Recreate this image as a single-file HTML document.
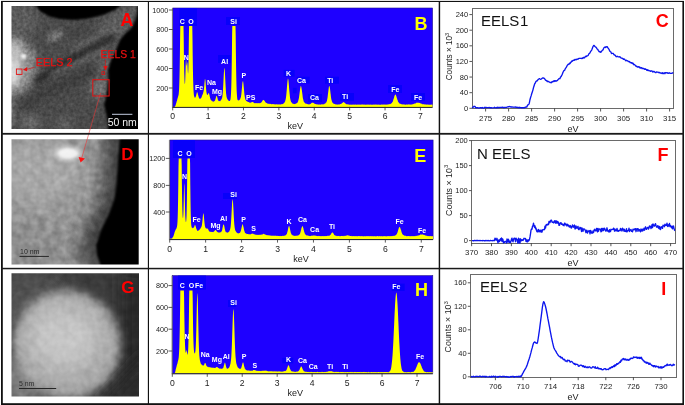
<!DOCTYPE html>
<html><head><meta charset="utf-8"><style>html,body{margin:0;padding:0;background:#fff;overflow:hidden}svg{display:block;will-change:transform}</style></head>
<body>
<svg xmlns="http://www.w3.org/2000/svg" width="685" height="405" viewBox="0 0 685 405">
<rect width="685" height="405" fill="#fff"/>
<defs>
<filter id="b2" filterUnits="userSpaceOnUse" x="-20" y="-20" width="200" height="450"><feGaussianBlur stdDeviation="2"/></filter>
<filter id="b4" filterUnits="userSpaceOnUse" x="-20" y="-20" width="200" height="450"><feGaussianBlur stdDeviation="4"/></filter>
<filter id="b8" filterUnits="userSpaceOnUse" x="-20" y="-20" width="200" height="450"><feGaussianBlur stdDeviation="8"/></filter>
<filter id="b12" filterUnits="userSpaceOnUse" x="-20" y="-20" width="200" height="450"><feGaussianBlur stdDeviation="12"/></filter>
<filter id="b1" filterUnits="userSpaceOnUse" x="-20" y="-20" width="200" height="450"><feGaussianBlur stdDeviation="1"/></filter>
<filter id="gn" color-interpolation-filters="sRGB" x="0" y="0" width="100%" height="100%"><feTurbulence type="fractalNoise" baseFrequency="0.3" numOctaves="2" seed="4"/><feColorMatrix type="matrix" values="0 0 0 1 0  0 0 0 1 0  0 0 0 1 0  0 0 0 0 1"/></filter>
<clipPath id="cA"><rect x="11.5" y="6" width="126.5" height="123"/></clipPath>
<clipPath id="cD"><rect x="11.5" y="139.3" width="127.2" height="125.3"/></clipPath>
<clipPath id="cG"><rect x="11.5" y="273.2" width="127.5" height="123.2"/></clipPath>
</defs>
<!-- Image A -->
<g clip-path="url(#cA)">
<rect x="0" y="0" width="150" height="135" fill="#4a4a4a"/>
<ellipse cx="22" cy="20" rx="16" ry="16" fill="#5c5c5c" filter="url(#b4)"/>
<path d="M70,45 L100,22 L128,6 L138,4 L138,14 L124,32 L108,45 L80,58 Z" fill="#5e5e5e" filter="url(#b4)"/>
<path d="M70,34 L100,22 L96,32 L72,42 Z" fill="#3e3e3e" filter="url(#b4)"/>
<ellipse cx="55" cy="36" rx="9" ry="4" transform="rotate(-28 55 36)" fill="#7c7c7c" filter="url(#b2)"/>
<path d="M0,36 L22,38 L34,50 L38,72 L26,92 L0,100 Z" fill="#8a8a8a" filter="url(#b4)"/>
<ellipse cx="14" cy="64" rx="8" ry="24" fill="#c6c6c6" filter="url(#b4)"/>
<ellipse cx="13" cy="72" rx="5" ry="12" fill="#d8d8d8" filter="url(#b2)"/>
<ellipse cx="30" cy="57" rx="4" ry="4" fill="#8c8c8c" filter="url(#b2)"/>
<ellipse cx="23.4" cy="56.5" rx="2.9" ry="2.4" fill="#f0f0f0" filter="url(#b1)"/>
<polyline points="26,104 50,90 75,80 95,70" fill="none" stroke="#3a3a3a" stroke-width="10" stroke-linecap="round" filter="url(#b4)"/>
<polyline points="38,80 60,66 85,52 111,38" fill="none" stroke="#2e2e2e" stroke-width="8" stroke-linecap="round" filter="url(#b2)"/>
<polyline points="52,74 75,64 104,50" fill="none" stroke="#626262" stroke-width="4" stroke-linecap="round" filter="url(#b2)"/>
<ellipse cx="99" cy="88" rx="9" ry="10" fill="#747474" filter="url(#b4)"/>
<path d="M96,60 L112,48 L110,78 L100,74 Z" fill="#626262" filter="url(#b4)"/>
<ellipse cx="30" cy="122" rx="10" ry="7" fill="#6c6c6c" filter="url(#b4)"/>
<ellipse cx="64" cy="124" rx="8" ry="6" fill="#626262" filter="url(#b4)"/>
<ellipse cx="12" cy="112" rx="3" ry="16" fill="#6a6a6a" filter="url(#b2)"/>
<path d="M36,0 L36.4,6 L40,11.2 L50,16.7 L60,19 L75,20 L90,18.2 L105,14.3 L115,9.7 L120,6 L122,0 Z" fill="#000" filter="url(#b1)"/>
<path d="M145,4 L138,6 L136,18 L132,27.5 L124.3,34.5 L120,40 L116,50 L111,60 L108,70 L108.5,80 L106.4,95 L104.1,105 L106.4,115 L108,125 L108,135 L145,135 Z" fill="#040404" filter="url(#b1)"/>
<rect x="11.5" y="6" width="126.5" height="123" filter="url(#gn)" style="mix-blend-mode:overlay" opacity="0.3"/>
</g>
<!-- Image D -->
<filter id="gn2" color-interpolation-filters="sRGB" x="0" y="0" width="100%" height="100%"><feTurbulence type="fractalNoise" baseFrequency="0.13" numOctaves="2" seed="9"/><feColorMatrix type="matrix" values="0 0 0 1 0  0 0 0 1 0  0 0 0 1 0  0 0 0 0 1"/></filter>
<g clip-path="url(#cD)">
<rect x="0" y="135" width="150" height="135" fill="#949494"/>
<ellipse cx="42" cy="172" rx="42" ry="34" fill="#a8a8a8" filter="url(#b12)"/>
<ellipse cx="32" cy="250" rx="32" ry="20" fill="#8a8a8a" filter="url(#b12)"/>
<polyline points="116,130 114,160 112,185 109,200 103,215 95,230 89,245 90,255 93,270" fill="none" stroke="#4e4e4e" stroke-width="22" filter="url(#b8)"/>
<polyline points="119,130 117,160 115.5,185 113,200 107,215 100,230 94,245 95,255 98,270" fill="none" stroke="#3a3a3a" stroke-width="8" filter="url(#b4)"/>
<ellipse cx="67.5" cy="153.5" rx="13" ry="7" fill="#dedede" filter="url(#b2)"/>
<ellipse cx="68" cy="153.5" rx="9.5" ry="4.5" fill="#f2f2f2" filter="url(#b1)"/>
<path d="M120,135 L119.5,139 L118,160 L116.5,185 L114,200 L108.3,215 L101,230 L96,245 L96.9,255 L100,264 L101,270 L145,270 L145,135 Z" fill="#050505" filter="url(#b1)"/>
<rect x="11.5" y="139.3" width="127.2" height="125.3" filter="url(#gn2)" style="mix-blend-mode:overlay" opacity="0.28"/>
</g>
<!-- Image G -->
<g clip-path="url(#cG)">
<rect x="0" y="268" width="150" height="135" fill="#3a3a3a"/>
<ellipse cx="28" cy="298" rx="40" ry="32" fill="#505050" filter="url(#b12)"/>
<rect x="122" y="268" width="30" height="135" fill="#272727" filter="url(#b8)"/>
<rect x="0" y="360" width="40" height="45" fill="#7a7a7a" filter="url(#b8)"/>
<ellipse cx="67" cy="345" rx="53" ry="54" transform="rotate(-25 67 345)" fill="#a4a4a4" filter="url(#b4)"/>
<ellipse cx="64" cy="338" rx="38" ry="34" fill="#c6c6c6" filter="url(#b12)"/>
<path d="M94,410 L150,350 L150,410 Z" fill="#2c2c2c" filter="url(#b8)"/>
<rect x="11.5" y="273.2" width="127.5" height="123.2" filter="url(#gn2)" style="mix-blend-mode:overlay" opacity="0.2"/>
</g>

<g font-family="Liberation Sans, sans-serif">
<text x="120.5" y="25.6" font-size="17.8" font-weight="bold" fill="#ff0000">A</text>
<text x="100.6" y="57.6" font-size="10.4" fill="#e81010" stroke="#e81010" stroke-width="0.25">EELS 1</text>
<text x="35.8" y="66" font-size="10.8" fill="#e81010" stroke="#e81010" stroke-width="0.25">EELS 2</text>
<line x1="105.4" y1="60" x2="105.4" y2="66.5" stroke="#e31212" stroke-width="0.6"/>
<path d="M103.3,66 L107.7,66 L105.5,70.6 Z" fill="#e31212"/>
<rect x="101.9" y="71.8" width="2.8" height="2.6" fill="none" stroke="#e31212" stroke-width="0.8"/>
<line x1="34.5" y1="67.3" x2="26.5" y2="69.4" stroke="#e31212" stroke-width="0.6"/>
<path d="M23,69.7 L27.2,67.1 L27.2,71.5 Z" fill="#e31212"/>
<rect x="16.4" y="69" width="5.6" height="5.4" fill="none" stroke="#e31212" stroke-width="0.9"/>
<rect x="92.8" y="79.7" width="16.3" height="16.3" fill="none" stroke="#e31212" stroke-width="1"/>
<line x1="112" y1="114.3" x2="132.4" y2="114.3" stroke="#c4cce0" stroke-width="1"/>
<text x="107.7" y="126.3" font-size="10.5" fill="#f2f2f2">50 nm</text>
<line x1="100.6" y1="93" x2="81.6" y2="158.5" stroke="#f03030" stroke-width="0.55"/>
<path d="M78.6,157 L85,158.4 L80.6,162.6 Z" fill="#ff1010"/>
<text x="121.2" y="159.6" font-size="17" font-weight="bold" fill="#ff0000">D</text>
<line x1="19.5" y1="256.4" x2="48.9" y2="256.4" stroke="#262626" stroke-width="1"/>
<text x="20" y="254.2" font-size="7" fill="#2a2a2a">10 nm</text>
<text x="121.2" y="293.4" font-size="17" font-weight="bold" fill="#ff0000">G</text>
<line x1="19" y1="388.5" x2="56.2" y2="388.5" stroke="#262626" stroke-width="1"/>
<text x="19" y="385.8" font-size="6.9" fill="#2e2e2e">5 nm</text>
</g>

<rect x="172.8" y="8" width="259.8" height="98.9" fill="#1e00ff" stroke="#24148a" stroke-width="0.6"/>
<rect x="179.4" y="8" width="17.6" height="18" fill="#0800fa"/>
<rect x="226" y="17" width="14" height="8" fill="#0800fa"/>
<rect x="218" y="55" width="13" height="8" fill="#0800fa"/>
<rect x="283.6" y="69.9" width="11" height="6.8" fill="#0800fa"/>
<rect x="296.6" y="76.7" width="13" height="6.8" fill="#0800fa"/>
<rect x="292.9" y="87.8" width="3.7" height="5.5" fill="#0800fa"/>
<rect x="308" y="94" width="14" height="8" fill="#0800fa"/>
<rect x="325" y="76.7" width="14" height="7" fill="#0800fa"/>
<rect x="340" y="93" width="14" height="8" fill="#0800fa"/>
<rect x="388" y="85" width="14" height="8" fill="#0800fa"/>
<rect x="411" y="93" width="14" height="8" fill="#0800fa"/>
<path d="M173.3,106.9 L173.3,106.90 L173.5,106.90 L173.7,106.90 L173.9,106.90 L174.1,106.90 L174.3,106.90 L174.5,106.90 L174.7,106.70 L174.9,106.49 L175.1,106.27 L175.3,105.72 L175.5,105.71 L175.7,104.78 L175.9,104.17 L176.1,103.62 L176.3,102.70 L176.5,102.23 L176.7,101.37 L176.9,100.88 L177.1,100.20 L177.3,99.35 L177.5,98.46 L177.7,98.10 L177.9,97.30 L178.1,96.48 L178.3,95.78 L178.5,95.14 L178.7,93.95 L178.9,91.64 L179.1,88.99 L179.3,83.87 L179.5,77.26 L179.7,67.64 L179.9,54.54 L180.1,37.59 L180.3,26.00 L180.5,26.00 L180.7,26.00 L180.9,26.00 L181.1,26.00 L181.3,26.00 L181.5,26.00 L181.7,26.00 L181.9,26.00 L182.1,26.00 L182.3,26.00 L182.5,26.00 L182.7,26.00 L182.9,26.00 L183.1,26.00 L183.3,26.00 L183.5,26.00 L183.7,37.00 L183.9,53.24 L184.1,65.68 L184.3,74.36 L184.5,80.23 L184.7,83.60 L184.9,83.91 L185.1,82.41 L185.3,77.79 L185.5,71.28 L185.7,65.06 L185.9,60.40 L186.1,59.65 L186.3,61.49 L186.5,64.50 L186.7,65.99 L186.9,64.68 L187.1,62.71 L187.3,61.83 L187.5,64.22 L187.7,68.65 L187.9,72.62 L188.1,73.49 L188.3,70.44 L188.5,63.36 L188.7,51.67 L188.9,36.07 L189.1,26.00 L189.3,26.00 L189.5,26.00 L189.7,26.00 L189.9,26.00 L190.1,26.00 L190.3,26.00 L190.5,26.00 L190.7,26.00 L190.9,26.00 L191.1,26.00 L191.3,26.00 L191.5,26.00 L191.7,26.00 L191.9,26.00 L192.1,26.00 L192.3,26.00 L192.5,39.04 L192.7,55.78 L192.9,68.78 L193.1,78.25 L193.3,85.10 L193.5,89.72 L193.7,93.05 L193.9,94.92 L194.1,96.13 L194.3,96.59 L194.5,96.98 L194.7,97.64 L194.9,97.76 L195.1,97.71 L195.3,97.54 L195.5,97.14 L195.7,96.69 L195.9,96.32 L196.1,95.77 L196.3,94.78 L196.5,93.99 L196.7,93.14 L196.9,92.37 L197.1,92.20 L197.3,92.33 L197.5,92.64 L197.7,93.26 L197.9,94.39 L198.1,94.85 L198.3,95.76 L198.5,96.45 L198.7,97.10 L198.9,97.76 L199.1,98.10 L199.3,98.50 L199.5,98.41 L199.7,98.83 L199.9,98.93 L200.1,98.85 L200.3,98.75 L200.5,98.51 L200.7,98.47 L200.9,98.28 L201.1,97.93 L201.3,97.64 L201.5,97.13 L201.7,96.88 L201.9,95.98 L202.1,95.60 L202.3,95.32 L202.5,94.75 L202.7,94.20 L202.9,93.70 L203.1,93.31 L203.3,92.36 L203.5,91.53 L203.7,90.72 L203.9,89.22 L204.1,87.54 L204.3,85.34 L204.5,82.87 L204.7,80.79 L204.9,79.05 L205.1,78.95 L205.3,79.74 L205.5,81.04 L205.7,83.69 L205.9,86.55 L206.1,88.87 L206.3,91.24 L206.5,92.57 L206.7,93.43 L206.9,94.16 L207.1,94.63 L207.3,95.01 L207.5,94.90 L207.7,94.78 L207.9,94.13 L208.1,93.84 L208.3,93.33 L208.5,93.31 L208.7,93.32 L208.9,93.25 L209.1,93.65 L209.3,94.42 L209.5,95.28 L209.7,96.16 L209.9,97.05 L210.1,98.06 L210.3,98.55 L210.5,99.15 L210.7,99.72 L210.9,100.05 L211.1,100.20 L211.3,100.44 L211.5,100.43 L211.7,100.49 L211.9,100.92 L212.1,100.84 L212.3,100.97 L212.5,101.14 L212.7,101.57 L212.9,101.76 L213.1,101.81 L213.3,101.80 L213.5,101.75 L213.7,101.49 L213.9,101.29 L214.1,101.24 L214.3,101.31 L214.5,101.07 L214.7,100.78 L214.9,100.84 L215.1,100.15 L215.3,99.48 L215.5,98.88 L215.7,98.13 L215.9,97.47 L216.1,96.88 L216.3,96.00 L216.5,95.92 L216.7,95.68 L216.9,95.91 L217.1,96.76 L217.3,97.49 L217.5,98.01 L217.7,98.88 L217.9,99.81 L218.1,100.36 L218.3,100.74 L218.5,100.64 L218.7,100.87 L218.9,101.31 L219.1,101.04 L219.3,100.99 L219.5,101.14 L219.7,101.26 L219.9,101.10 L220.1,101.21 L220.3,101.14 L220.5,100.49 L220.7,100.45 L220.9,100.28 L221.1,99.80 L221.3,99.73 L221.5,99.14 L221.7,98.71 L221.9,98.46 L222.1,97.71 L222.3,96.70 L222.5,95.37 L222.7,93.36 L222.9,91.10 L223.1,87.96 L223.3,84.46 L223.5,80.05 L223.7,76.26 L223.9,72.54 L224.1,69.68 L224.3,68.00 L224.5,68.23 L224.7,69.47 L224.9,72.45 L225.1,76.09 L225.3,80.13 L225.5,84.39 L225.7,87.79 L225.9,90.96 L226.1,93.45 L226.3,94.87 L226.5,96.51 L226.7,97.33 L226.9,97.92 L227.1,98.54 L227.3,99.10 L227.5,99.36 L227.7,99.65 L227.9,99.81 L228.1,100.39 L228.3,100.37 L228.5,100.70 L228.7,100.84 L228.9,100.72 L229.1,100.95 L229.3,100.99 L229.5,100.91 L229.7,100.81 L229.9,100.92 L230.1,100.56 L230.3,100.10 L230.5,99.19 L230.7,97.58 L230.9,95.27 L231.1,91.50 L231.3,86.02 L231.5,77.95 L231.7,67.37 L231.9,53.24 L232.1,35.53 L232.3,26.00 L232.5,26.00 L232.7,26.00 L232.9,26.00 L233.1,26.00 L233.3,26.00 L233.5,26.00 L233.7,26.00 L233.9,26.00 L234.1,26.00 L234.3,26.00 L234.5,26.00 L234.7,26.00 L234.9,26.00 L235.1,26.00 L235.3,26.00 L235.5,26.00 L235.7,35.36 L235.9,52.96 L236.1,67.35 L236.3,77.66 L236.5,85.74 L236.7,91.17 L236.9,94.61 L237.1,97.08 L237.3,98.89 L237.5,99.63 L237.7,100.06 L237.9,100.37 L238.1,100.54 L238.3,100.51 L238.5,100.29 L238.7,100.58 L238.9,100.23 L239.1,100.18 L239.3,100.26 L239.5,99.95 L239.7,99.62 L239.9,99.46 L240.1,99.41 L240.3,98.59 L240.5,98.21 L240.7,97.48 L240.9,97.05 L241.1,95.84 L241.3,94.51 L241.5,92.39 L241.7,90.62 L241.9,88.49 L242.1,86.13 L242.3,83.85 L242.5,82.25 L242.7,81.46 L242.9,81.17 L243.1,81.20 L243.3,82.51 L243.5,84.16 L243.7,86.57 L243.9,88.87 L244.1,90.82 L244.3,93.04 L244.5,95.04 L244.7,96.11 L244.9,97.46 L245.1,98.30 L245.3,99.37 L245.5,99.52 L245.7,100.33 L245.9,100.26 L246.1,100.73 L246.3,101.01 L246.5,101.08 L246.7,101.04 L246.9,101.48 L247.1,101.62 L247.3,101.46 L247.5,101.64 L247.7,101.75 L247.9,101.78 L248.1,101.91 L248.3,101.94 L248.5,102.00 L248.7,102.13 L248.9,102.03 L249.1,102.38 L249.3,102.38 L249.5,102.62 L249.7,102.59 L249.9,102.80 L250.1,102.71 L250.3,102.84 L250.5,102.48 L250.7,102.55 L250.9,102.69 L251.1,102.49 L251.3,102.18 L251.5,102.49 L251.7,102.03 L251.9,102.12 L252.1,102.02 L252.3,101.82 L252.5,102.06 L252.7,102.06 L252.9,102.08 L253.1,102.06 L253.3,102.52 L253.5,102.41 L253.7,102.59 L253.9,102.72 L254.1,102.92 L254.3,103.01 L254.5,103.20 L254.7,103.20 L254.9,103.26 L255.1,102.95 L255.3,103.21 L255.5,103.28 L255.7,103.33 L255.9,102.97 L256.1,102.97 L256.3,103.08 L256.5,103.29 L256.7,103.32 L256.9,103.30 L257.1,103.22 L257.3,103.37 L257.5,103.23 L257.7,103.32 L257.9,102.97 L258.1,102.96 L258.3,103.17 L258.5,103.32 L258.7,102.95 L258.9,103.26 L259.1,103.23 L259.3,103.39 L259.5,103.18 L259.7,103.10 L259.9,103.05 L260.1,103.15 L260.3,102.94 L260.5,103.10 L260.7,102.87 L260.9,102.83 L261.1,102.52 L261.3,102.52 L261.5,102.31 L261.7,101.93 L261.9,101.71 L262.1,101.25 L262.3,101.00 L262.5,100.61 L262.7,100.41 L262.9,100.17 L263.1,99.93 L263.3,100.08 L263.5,100.09 L263.7,99.80 L263.9,100.34 L264.1,100.23 L264.3,100.50 L264.5,101.07 L264.7,100.96 L264.9,101.24 L265.1,101.67 L265.3,101.90 L265.5,102.12 L265.7,102.69 L265.9,102.70 L266.1,102.89 L266.3,102.87 L266.5,103.00 L266.7,103.10 L266.9,103.30 L267.1,103.22 L267.3,103.38 L267.5,103.43 L267.7,103.71 L267.9,103.85 L268.1,103.83 L268.3,103.76 L268.5,103.92 L268.7,103.58 L268.9,103.75 L269.1,103.74 L269.3,103.77 L269.5,103.77 L269.7,103.89 L269.9,104.15 L270.1,103.78 L270.3,103.82 L270.5,103.96 L270.7,103.97 L270.9,103.92 L271.1,104.23 L271.3,103.91 L271.5,104.17 L271.7,104.27 L271.9,104.19 L272.1,103.97 L272.3,104.25 L272.5,103.99 L272.7,103.89 L272.9,104.14 L273.1,104.21 L273.3,104.17 L273.5,104.08 L273.7,104.05 L273.9,104.13 L274.1,104.13 L274.3,104.42 L274.5,104.40 L274.7,104.36 L274.9,104.12 L275.1,104.35 L275.3,104.23 L275.5,104.52 L275.7,104.50 L275.9,104.41 L276.1,104.22 L276.3,104.22 L276.5,104.24 L276.7,104.44 L276.9,104.34 L277.1,104.37 L277.3,104.38 L277.5,104.56 L277.7,104.19 L277.9,104.54 L278.1,104.16 L278.3,104.19 L278.5,104.66 L278.7,104.45 L278.9,104.28 L279.1,104.21 L279.3,104.48 L279.5,104.57 L279.7,104.61 L279.9,104.24 L280.1,104.61 L280.3,104.41 L280.5,104.62 L280.7,104.41 L280.9,104.18 L281.1,104.56 L281.3,104.19 L281.5,104.31 L281.7,104.08 L281.9,104.12 L282.1,104.30 L282.3,103.90 L282.5,104.03 L282.7,104.17 L282.9,104.08 L283.1,103.72 L283.3,103.61 L283.5,103.55 L283.7,103.47 L283.9,103.19 L284.1,103.01 L284.3,102.52 L284.5,102.69 L284.7,102.02 L284.9,101.63 L285.1,101.55 L285.3,100.60 L285.5,100.00 L285.7,98.99 L285.9,98.12 L286.1,96.61 L286.3,94.81 L286.5,92.40 L286.7,90.24 L286.9,87.83 L287.1,85.25 L287.3,82.95 L287.5,81.06 L287.7,79.57 L287.9,78.43 L288.1,78.71 L288.3,79.15 L288.5,80.96 L288.7,82.96 L288.9,85.21 L289.1,87.92 L289.3,90.35 L289.5,92.43 L289.7,94.56 L289.9,96.39 L290.1,97.95 L290.3,98.98 L290.5,99.89 L290.7,100.79 L290.9,101.25 L291.1,102.02 L291.3,102.03 L291.5,102.46 L291.7,102.55 L291.9,102.82 L292.1,103.19 L292.3,103.48 L292.5,103.19 L292.7,103.72 L292.9,103.67 L293.1,103.83 L293.3,103.93 L293.5,103.78 L293.7,103.71 L293.9,104.11 L294.1,103.93 L294.3,104.12 L294.5,103.99 L294.7,104.06 L294.9,104.14 L295.1,104.10 L295.3,104.03 L295.5,103.62 L295.7,103.75 L295.9,103.80 L296.1,103.36 L296.3,103.21 L296.5,103.36 L296.7,103.38 L296.9,103.20 L297.1,103.07 L297.3,102.73 L297.5,102.61 L297.7,102.23 L297.9,101.84 L298.1,101.20 L298.3,100.45 L298.5,99.77 L298.7,99.04 L298.9,97.96 L299.1,96.65 L299.3,95.32 L299.5,93.81 L299.7,92.36 L299.9,90.67 L300.1,88.86 L300.3,88.01 L300.5,86.83 L300.7,86.15 L300.9,85.82 L301.1,86.36 L301.3,86.95 L301.5,87.95 L301.7,89.14 L301.9,90.59 L302.1,91.91 L302.3,93.56 L302.5,95.07 L302.7,96.91 L302.9,98.15 L303.1,98.89 L303.3,99.70 L303.5,100.66 L303.7,101.20 L303.9,101.97 L304.1,102.16 L304.3,102.19 L304.5,102.50 L304.7,102.69 L304.9,102.81 L305.1,103.33 L305.3,103.53 L305.5,103.63 L305.7,103.56 L305.9,103.58 L306.1,103.54 L306.3,103.74 L306.5,103.85 L306.7,103.85 L306.9,104.06 L307.1,104.07 L307.3,104.37 L307.5,104.03 L307.7,104.33 L307.9,104.01 L308.1,104.17 L308.3,104.35 L308.5,104.44 L308.7,104.38 L308.9,104.18 L309.1,104.14 L309.3,104.41 L309.5,104.41 L309.7,104.14 L309.9,104.06 L310.1,104.09 L310.3,104.09 L310.5,103.80 L310.7,103.98 L310.9,103.71 L311.1,103.48 L311.3,103.08 L311.5,103.09 L311.7,102.82 L311.9,102.89 L312.1,102.89 L312.3,102.80 L312.5,102.39 L312.7,102.50 L312.9,102.72 L313.1,102.91 L313.3,102.77 L313.5,102.79 L313.7,103.06 L313.9,103.29 L314.1,103.24 L314.3,103.26 L314.5,103.76 L314.7,103.99 L314.9,103.95 L315.1,104.01 L315.3,103.97 L315.5,104.29 L315.7,104.05 L315.9,104.12 L316.1,104.28 L316.3,104.46 L316.5,104.11 L316.7,104.46 L316.9,104.22 L317.1,104.53 L317.3,104.55 L317.5,104.30 L317.7,104.54 L317.9,104.23 L318.1,104.46 L318.3,104.63 L318.5,104.62 L318.7,104.53 L318.9,104.41 L319.1,104.28 L319.3,104.68 L319.5,104.57 L319.7,104.66 L319.9,104.28 L320.1,104.70 L320.3,104.75 L320.5,104.74 L320.7,104.57 L320.9,104.32 L321.1,104.32 L321.3,104.39 L321.5,104.25 L321.7,104.27 L321.9,104.56 L322.1,104.62 L322.3,104.22 L322.5,104.30 L322.7,104.62 L322.9,104.28 L323.1,104.38 L323.3,104.34 L323.5,104.31 L323.7,104.33 L323.9,104.35 L324.1,104.13 L324.3,104.01 L324.5,103.62 L324.7,103.93 L324.9,103.40 L325.1,103.65 L325.3,103.43 L325.5,103.04 L325.7,102.86 L325.9,102.85 L326.1,102.79 L326.3,102.27 L326.5,101.93 L326.7,101.16 L326.9,100.88 L327.1,100.00 L327.3,98.73 L327.5,97.96 L327.7,96.36 L327.9,94.57 L328.1,92.89 L328.3,91.51 L328.5,89.85 L328.7,88.37 L328.9,86.78 L329.1,86.38 L329.3,85.88 L329.5,86.06 L329.7,87.07 L329.9,88.26 L330.1,89.39 L330.3,91.23 L330.5,93.15 L330.7,94.62 L330.9,96.41 L331.1,97.84 L331.3,99.18 L331.5,99.81 L331.7,100.53 L331.9,101.31 L332.1,101.65 L332.3,102.50 L332.5,102.70 L332.7,102.84 L332.9,102.80 L333.1,102.99 L333.3,103.43 L333.5,103.63 L333.7,103.67 L333.9,103.75 L334.1,103.64 L334.3,104.11 L334.5,103.88 L334.7,103.99 L334.9,104.01 L335.1,104.09 L335.3,104.22 L335.5,104.41 L335.7,104.45 L335.9,104.45 L336.1,104.27 L336.3,104.64 L336.5,104.60 L336.7,104.33 L336.9,104.59 L337.1,104.69 L337.3,104.70 L337.5,104.44 L337.7,104.55 L337.9,104.22 L338.1,104.26 L338.3,104.20 L338.5,104.55 L338.7,104.63 L338.9,104.61 L339.1,104.39 L339.3,104.27 L339.5,104.38 L339.7,104.46 L339.9,104.33 L340.1,104.19 L340.3,104.12 L340.5,104.02 L340.7,103.90 L340.9,103.90 L341.1,104.07 L341.3,103.58 L341.5,103.71 L341.7,103.41 L341.9,103.33 L342.1,102.96 L342.3,103.04 L342.5,102.84 L342.7,102.67 L342.9,102.57 L343.1,102.10 L343.3,102.18 L343.5,102.29 L343.7,102.28 L343.9,102.05 L344.1,102.40 L344.3,102.68 L344.5,102.56 L344.7,102.82 L344.9,102.84 L345.1,103.47 L345.3,103.46 L345.5,103.45 L345.7,103.59 L345.9,103.68 L346.1,104.22 L346.3,104.18 L346.5,104.34 L346.7,104.37 L346.9,104.03 L347.1,104.26 L347.3,104.12 L347.5,104.43 L347.7,104.20 L347.9,104.43 L348.1,104.55 L348.3,104.30 L348.5,104.23 L348.7,104.67 L348.9,104.44 L349.1,104.44 L349.3,104.65 L349.5,104.58 L349.7,104.70 L349.9,104.68 L350.1,104.66 L350.3,104.50 L350.5,104.48 L350.7,104.71 L350.9,104.81 L351.1,104.66 L351.3,104.48 L351.5,104.73 L351.7,104.67 L351.9,104.73 L352.1,104.44 L352.3,104.56 L352.5,104.81 L352.7,104.79 L352.9,104.64 L353.1,104.57 L353.3,104.52 L353.5,104.80 L353.7,104.76 L353.9,104.50 L354.1,104.64 L354.3,104.70 L354.5,104.69 L354.7,104.37 L354.9,104.69 L355.1,104.57 L355.3,104.67 L355.5,104.64 L355.7,104.42 L355.9,104.35 L356.1,104.67 L356.3,104.75 L356.5,104.49 L356.7,104.75 L356.9,104.85 L357.1,104.40 L357.3,104.64 L357.5,104.44 L357.7,104.65 L357.9,104.41 L358.1,104.62 L358.3,104.77 L358.5,104.85 L358.7,104.58 L358.9,104.53 L359.1,104.40 L359.3,104.81 L359.5,104.54 L359.7,104.67 L359.9,104.60 L360.1,104.78 L360.3,104.71 L360.5,104.60 L360.7,104.39 L360.9,104.80 L361.1,104.61 L361.3,104.45 L361.5,104.37 L361.7,104.76 L361.9,104.79 L362.1,104.39 L362.3,104.37 L362.5,104.62 L362.7,104.83 L362.9,104.40 L363.1,104.67 L363.3,104.41 L363.5,104.55 L363.7,104.45 L363.9,104.78 L364.1,104.47 L364.3,104.75 L364.5,104.66 L364.7,104.44 L364.9,104.45 L365.1,104.77 L365.3,104.75 L365.5,104.66 L365.7,104.60 L365.9,104.67 L366.1,104.80 L366.3,104.74 L366.5,104.50 L366.7,104.42 L366.9,104.84 L367.1,104.58 L367.3,104.49 L367.5,104.85 L367.7,104.45 L367.9,104.81 L368.1,104.57 L368.3,104.59 L368.5,104.55 L368.7,104.71 L368.9,104.66 L369.1,104.58 L369.3,104.65 L369.5,104.54 L369.7,104.64 L369.9,104.65 L370.1,104.86 L370.3,104.56 L370.5,104.62 L370.7,104.75 L370.9,104.49 L371.1,104.48 L371.3,104.64 L371.5,104.78 L371.7,104.63 L371.9,104.82 L372.1,104.81 L372.3,104.66 L372.5,104.83 L372.7,104.65 L372.9,104.62 L373.1,104.85 L373.3,104.55 L373.5,104.83 L373.7,104.51 L373.9,104.48 L374.1,104.62 L374.3,104.85 L374.5,104.62 L374.7,104.69 L374.9,104.40 L375.1,104.81 L375.3,104.45 L375.5,104.38 L375.7,104.51 L375.9,104.47 L376.1,104.78 L376.3,104.39 L376.5,104.63 L376.7,104.40 L376.9,104.42 L377.1,104.80 L377.3,104.48 L377.5,104.41 L377.7,104.85 L377.9,104.70 L378.1,104.50 L378.3,104.80 L378.5,104.43 L378.7,104.74 L378.9,104.47 L379.1,104.81 L379.3,104.63 L379.5,104.42 L379.7,104.78 L379.9,104.75 L380.1,104.63 L380.3,104.72 L380.5,104.86 L380.7,104.79 L380.9,104.80 L381.1,104.41 L381.3,104.54 L381.5,104.43 L381.7,104.80 L381.9,104.49 L382.1,104.82 L382.3,104.62 L382.5,104.56 L382.7,104.70 L382.9,104.44 L383.1,104.60 L383.3,104.59 L383.5,104.44 L383.7,104.82 L383.9,104.38 L384.1,104.56 L384.3,104.67 L384.5,104.47 L384.7,104.73 L384.9,104.36 L385.1,104.57 L385.3,104.67 L385.5,104.46 L385.7,104.61 L385.9,104.74 L386.1,104.45 L386.3,104.78 L386.5,104.39 L386.7,104.66 L386.9,104.45 L387.1,104.26 L387.3,104.44 L387.5,104.38 L387.7,104.53 L387.9,104.66 L388.1,104.62 L388.3,104.53 L388.5,104.26 L388.7,104.32 L388.9,104.24 L389.1,104.01 L389.3,104.35 L389.5,104.25 L389.7,103.99 L389.9,104.25 L390.1,104.20 L390.3,103.96 L390.5,104.01 L390.7,103.80 L390.9,103.77 L391.1,103.49 L391.3,103.36 L391.5,103.40 L391.7,103.02 L391.9,102.88 L392.1,102.79 L392.3,102.09 L392.5,102.08 L392.7,101.71 L392.9,101.27 L393.1,100.46 L393.3,99.75 L393.5,99.15 L393.7,98.67 L393.9,98.05 L394.1,97.49 L394.3,96.51 L394.5,95.95 L394.7,95.54 L394.9,94.98 L395.1,94.79 L395.3,94.40 L395.5,94.50 L395.7,94.89 L395.9,94.85 L396.1,95.70 L396.3,95.97 L396.5,96.64 L396.7,97.38 L396.9,98.15 L397.1,98.48 L397.3,99.54 L397.5,99.91 L397.7,100.31 L397.9,101.25 L398.1,101.70 L398.3,101.91 L398.5,102.31 L398.7,102.55 L398.9,102.72 L399.1,103.25 L399.3,103.36 L399.5,103.51 L399.7,103.76 L399.9,103.45 L400.1,103.59 L400.3,103.71 L400.5,104.14 L400.7,103.78 L400.9,103.89 L401.1,104.09 L401.3,104.00 L401.5,104.19 L401.7,104.35 L401.9,104.45 L402.1,104.43 L402.3,104.56 L402.5,104.44 L402.7,104.26 L402.9,104.32 L403.1,104.27 L403.3,104.35 L403.5,104.60 L403.7,104.47 L403.9,104.54 L404.1,104.38 L404.3,104.53 L404.5,104.67 L404.7,104.49 L404.9,104.33 L405.1,104.71 L405.3,104.38 L405.5,104.82 L405.7,104.70 L405.9,104.71 L406.1,104.46 L406.3,104.36 L406.5,104.46 L406.7,104.67 L406.9,104.39 L407.1,104.66 L407.3,104.70 L407.5,104.37 L407.7,104.50 L407.9,104.47 L408.1,104.47 L408.3,104.31 L408.5,104.56 L408.7,104.37 L408.9,104.44 L409.1,104.35 L409.3,104.55 L409.5,104.40 L409.7,104.47 L409.9,104.59 L410.1,104.63 L410.3,104.41 L410.5,104.67 L410.7,104.24 L410.9,104.61 L411.1,104.66 L411.3,104.60 L411.5,104.17 L411.7,104.44 L411.9,104.52 L412.1,104.55 L412.3,104.51 L412.5,104.16 L412.7,104.15 L412.9,104.08 L413.1,104.01 L413.3,104.30 L413.5,103.99 L413.7,104.04 L413.9,103.75 L414.1,103.69 L414.3,103.58 L414.5,103.92 L414.7,103.44 L414.9,103.33 L415.1,103.24 L415.3,103.57 L415.5,103.43 L415.7,103.40 L415.9,103.35 L416.1,102.86 L416.3,102.80 L416.5,102.82 L416.7,102.66 L416.9,102.69 L417.1,102.81 L417.3,102.87 L417.5,102.83 L417.7,102.48 L417.9,102.75 L418.1,102.69 L418.3,102.65 L418.5,102.87 L418.7,102.79 L418.9,102.82 L419.1,102.65 L419.3,102.89 L419.5,102.98 L419.7,102.73 L419.9,103.04 L420.1,102.95 L420.3,103.15 L420.5,103.53 L420.7,103.42 L420.9,103.50 L421.1,103.41 L421.3,103.71 L421.5,103.61 L421.7,103.77 L421.9,104.00 L422.1,103.74 L422.3,104.19 L422.5,103.88 L422.7,104.26 L422.9,104.40 L423.1,104.34 L423.3,104.10 L423.5,104.03 L423.7,104.55 L423.9,104.33 L424.1,104.36 L424.3,104.23 L424.5,104.56 L424.7,104.42 L424.9,104.52 L425.1,104.29 L425.3,104.59 L425.5,104.26 L425.7,104.60 L425.9,104.65 L426.1,104.42 L426.3,104.53 L426.5,104.73 L426.7,104.48 L426.9,104.76 L427.1,104.42 L427.3,104.47 L427.5,104.43 L427.7,104.52 L427.9,104.66 L428.1,104.64 L428.3,104.65 L428.5,104.41 L428.7,104.82 L428.9,104.42 L429.1,104.86 L429.3,104.77 L429.5,104.75 L429.7,104.43 L429.9,104.64 L430.1,104.70 L430.3,104.45 L430.5,104.78 L430.7,104.67 L430.9,104.64 L431.1,104.53 L431.3,104.54 L431.5,104.59 L431.7,104.74 L431.9,104.76 L432.1,104.85 L432.3,104.50 L432.5,104.60 L432.6,106.9 Z" fill="#ffff00"/>
<line x1="172.8" y1="107.4" x2="432.6" y2="107.4" stroke="#222" stroke-width="1"/>
<line x1="172.4" y1="8" x2="172.4" y2="107.9" stroke="#7a7a6a" stroke-width="0.8"/>
<line x1="168.8" y1="10" x2="172.8" y2="10" stroke="#333" stroke-width="0.8"/>
<text x="168.3" y="12.5" text-anchor="end" font-size="7.2" fill="#222" font-family="Liberation Sans, sans-serif">1000</text>
<line x1="168.8" y1="29.5" x2="172.8" y2="29.5" stroke="#333" stroke-width="0.8"/>
<text x="168.3" y="32.0" text-anchor="end" font-size="7.2" fill="#222" font-family="Liberation Sans, sans-serif">800</text>
<line x1="168.8" y1="49" x2="172.8" y2="49" stroke="#333" stroke-width="0.8"/>
<text x="168.3" y="51.5" text-anchor="end" font-size="7.2" fill="#222" font-family="Liberation Sans, sans-serif">600</text>
<line x1="168.8" y1="68.5" x2="172.8" y2="68.5" stroke="#333" stroke-width="0.8"/>
<text x="168.3" y="71.0" text-anchor="end" font-size="7.2" fill="#222" font-family="Liberation Sans, sans-serif">400</text>
<line x1="168.8" y1="88" x2="172.8" y2="88" stroke="#333" stroke-width="0.8"/>
<text x="168.3" y="90.5" text-anchor="end" font-size="7.2" fill="#222" font-family="Liberation Sans, sans-serif">200</text>
<line x1="172.7" y1="106.9" x2="172.7" y2="110.4" stroke="#333" stroke-width="0.8"/>
<text x="172.7" y="119.30000000000001" text-anchor="middle" font-size="8.6" fill="#222" font-family="Liberation Sans, sans-serif">0</text>
<line x1="208.08999999999997" y1="106.9" x2="208.08999999999997" y2="110.4" stroke="#333" stroke-width="0.8"/>
<text x="208.08999999999997" y="119.30000000000001" text-anchor="middle" font-size="8.6" fill="#222" font-family="Liberation Sans, sans-serif">1</text>
<line x1="243.48" y1="106.9" x2="243.48" y2="110.4" stroke="#333" stroke-width="0.8"/>
<text x="243.48" y="119.30000000000001" text-anchor="middle" font-size="8.6" fill="#222" font-family="Liberation Sans, sans-serif">2</text>
<line x1="278.87" y1="106.9" x2="278.87" y2="110.4" stroke="#333" stroke-width="0.8"/>
<text x="278.87" y="119.30000000000001" text-anchor="middle" font-size="8.6" fill="#222" font-family="Liberation Sans, sans-serif">3</text>
<line x1="314.26" y1="106.9" x2="314.26" y2="110.4" stroke="#333" stroke-width="0.8"/>
<text x="314.26" y="119.30000000000001" text-anchor="middle" font-size="8.6" fill="#222" font-family="Liberation Sans, sans-serif">4</text>
<line x1="349.65" y1="106.9" x2="349.65" y2="110.4" stroke="#333" stroke-width="0.8"/>
<text x="349.65" y="119.30000000000001" text-anchor="middle" font-size="8.6" fill="#222" font-family="Liberation Sans, sans-serif">5</text>
<line x1="385.03999999999996" y1="106.9" x2="385.03999999999996" y2="110.4" stroke="#333" stroke-width="0.8"/>
<text x="385.03999999999996" y="119.30000000000001" text-anchor="middle" font-size="8.6" fill="#222" font-family="Liberation Sans, sans-serif">6</text>
<line x1="420.43" y1="106.9" x2="420.43" y2="110.4" stroke="#333" stroke-width="0.8"/>
<text x="420.43" y="119.30000000000001" text-anchor="middle" font-size="8.6" fill="#222" font-family="Liberation Sans, sans-serif">7</text>
<text x="287.6" y="129.4" font-size="9" fill="#222" font-family="Liberation Sans, sans-serif">keV</text>
<text x="182.2" y="23.5" text-anchor="middle" font-size="7" font-weight="bold" fill="#fff" font-family="Liberation Sans, sans-serif">C</text>
<text x="190.9" y="23.5" text-anchor="middle" font-size="7" font-weight="bold" fill="#fff" font-family="Liberation Sans, sans-serif">O</text>
<text x="186.4" y="60" text-anchor="middle" font-size="7" font-weight="bold" fill="#fff" font-family="Liberation Sans, sans-serif">N</text>
<text x="233.6" y="24" text-anchor="middle" font-size="7" font-weight="bold" fill="#fff" font-family="Liberation Sans, sans-serif">Si</text>
<text x="224.6" y="64" text-anchor="middle" font-size="7" font-weight="bold" fill="#fff" font-family="Liberation Sans, sans-serif">Al</text>
<text x="199" y="90.3" text-anchor="middle" font-size="7" font-weight="bold" fill="#fff" font-family="Liberation Sans, sans-serif">Fe</text>
<text x="211.5" y="84.5" text-anchor="middle" font-size="7" font-weight="bold" fill="#fff" font-family="Liberation Sans, sans-serif">Na</text>
<text x="217" y="94" text-anchor="middle" font-size="7" font-weight="bold" fill="#fff" font-family="Liberation Sans, sans-serif">Mg</text>
<text x="243.8" y="78.3" text-anchor="middle" font-size="7" font-weight="bold" fill="#fff" font-family="Liberation Sans, sans-serif">P</text>
<text x="250.7" y="99.5" text-anchor="middle" font-size="7" font-weight="bold" fill="#fff" font-family="Liberation Sans, sans-serif">PS</text>
<text x="288.6" y="75.8" text-anchor="middle" font-size="7" font-weight="bold" fill="#fff" font-family="Liberation Sans, sans-serif">K</text>
<text x="301.5" y="82.8" text-anchor="middle" font-size="7" font-weight="bold" fill="#fff" font-family="Liberation Sans, sans-serif">Ca</text>
<text x="314.4" y="100.1" text-anchor="middle" font-size="7" font-weight="bold" fill="#fff" font-family="Liberation Sans, sans-serif">Ca</text>
<text x="330.2" y="82.8" text-anchor="middle" font-size="7" font-weight="bold" fill="#fff" font-family="Liberation Sans, sans-serif">Ti</text>
<text x="345.1" y="98.9" text-anchor="middle" font-size="7" font-weight="bold" fill="#fff" font-family="Liberation Sans, sans-serif">Ti</text>
<text x="395.4" y="91.5" text-anchor="middle" font-size="7" font-weight="bold" fill="#fff" font-family="Liberation Sans, sans-serif">Fe</text>
<text x="418" y="99.5" text-anchor="middle" font-size="7" font-weight="bold" fill="#fff" font-family="Liberation Sans, sans-serif">Fe</text>
<text x="414.4" y="29.5" font-size="18" font-weight="bold" fill="#ffff00" font-family="Liberation Sans, sans-serif">B</text>
<rect x="169.8" y="140" width="263.3" height="99.1" fill="#1e00ff" stroke="#24148a" stroke-width="0.6"/>
<rect x="173" y="140" width="22" height="18" fill="#0800fa"/>
<rect x="223" y="193" width="14" height="6" fill="#0800fa"/>
<path d="M170.3,239.1 L170.3,238.38 L170.5,238.67 L170.7,238.53 L170.9,238.36 L171.1,238.46 L171.3,238.69 L171.5,238.52 L171.7,238.31 L171.9,238.63 L172.1,238.49 L172.3,238.10 L172.5,237.57 L172.7,237.16 L172.9,237.17 L173.1,236.84 L173.3,236.46 L173.5,236.09 L173.7,235.32 L173.9,234.84 L174.1,234.09 L174.3,233.49 L174.5,232.43 L174.7,231.89 L174.9,231.53 L175.1,230.59 L175.3,230.67 L175.5,230.18 L175.7,229.53 L175.9,229.26 L176.1,228.92 L176.3,228.67 L176.5,228.34 L176.7,227.54 L176.9,227.01 L177.1,225.89 L177.3,224.16 L177.5,221.58 L177.7,216.92 L177.9,209.79 L178.1,199.59 L178.3,185.32 L178.5,166.15 L178.7,158.50 L178.9,158.50 L179.1,158.50 L179.3,158.50 L179.5,158.50 L179.7,158.50 L179.9,158.50 L180.1,158.50 L180.3,158.50 L180.5,158.50 L180.7,158.50 L180.9,158.50 L181.1,158.50 L181.3,158.50 L181.5,158.50 L181.7,164.74 L181.9,183.51 L182.1,197.39 L182.3,207.10 L182.5,213.34 L182.7,216.67 L182.9,218.32 L183.1,217.58 L183.3,214.64 L183.5,209.34 L183.7,201.62 L183.9,193.02 L184.1,185.78 L184.3,183.01 L184.5,185.78 L184.7,193.16 L184.9,201.98 L185.1,209.88 L185.3,216.05 L185.5,219.36 L185.7,221.20 L185.9,222.13 L186.1,221.79 L186.3,219.93 L186.5,216.82 L186.7,210.10 L186.9,199.78 L187.1,183.77 L187.3,162.00 L187.5,158.50 L187.7,158.50 L187.9,158.50 L188.1,158.50 L188.3,158.50 L188.5,158.50 L188.7,158.50 L188.9,158.50 L189.1,158.50 L189.3,158.50 L189.5,158.50 L189.7,158.50 L189.9,158.50 L190.1,162.99 L190.3,184.74 L190.5,201.08 L190.7,211.56 L190.9,218.84 L191.1,223.16 L191.3,225.41 L191.5,226.61 L191.7,227.44 L191.9,227.54 L192.1,227.73 L192.3,227.73 L192.5,228.01 L192.7,228.13 L192.9,228.19 L193.1,227.93 L193.3,227.77 L193.5,227.84 L193.7,227.75 L193.9,227.11 L194.1,226.85 L194.3,226.40 L194.5,225.91 L194.7,225.15 L194.9,224.87 L195.1,224.93 L195.3,225.25 L195.5,225.69 L195.7,226.51 L195.9,226.89 L196.1,227.96 L196.3,228.52 L196.5,229.03 L196.7,229.53 L196.9,230.10 L197.1,230.51 L197.3,230.64 L197.5,231.06 L197.7,230.65 L197.9,230.81 L198.1,230.47 L198.3,230.65 L198.5,230.48 L198.7,230.42 L198.9,230.19 L199.1,230.16 L199.3,230.08 L199.5,229.53 L199.7,229.55 L199.9,229.35 L200.1,229.08 L200.3,228.72 L200.5,228.46 L200.7,228.05 L200.9,227.69 L201.1,227.53 L201.3,226.94 L201.5,226.54 L201.7,226.30 L201.9,224.98 L202.1,223.64 L202.3,222.01 L202.5,220.31 L202.7,217.78 L202.9,215.81 L203.1,214.49 L203.3,213.61 L203.5,213.17 L203.7,214.28 L203.9,216.18 L204.1,218.40 L204.3,220.63 L204.5,222.67 L204.7,224.15 L204.9,225.73 L205.1,226.82 L205.3,227.13 L205.5,227.66 L205.7,228.34 L205.9,228.23 L206.1,228.53 L206.3,228.53 L206.5,228.60 L206.7,228.44 L206.9,228.42 L207.1,228.33 L207.3,228.63 L207.5,228.43 L207.7,228.66 L207.9,228.79 L208.1,229.26 L208.3,229.41 L208.5,229.96 L208.7,230.47 L208.9,230.81 L209.1,231.14 L209.3,231.20 L209.5,231.62 L209.7,231.57 L209.9,231.88 L210.1,231.80 L210.3,231.84 L210.5,231.86 L210.7,231.73 L210.9,232.19 L211.1,231.80 L211.3,232.01 L211.5,231.98 L211.7,231.94 L211.9,231.87 L212.1,232.11 L212.3,232.09 L212.5,231.82 L212.7,232.25 L212.9,231.95 L213.1,231.93 L213.3,232.19 L213.5,231.84 L213.7,231.71 L213.9,231.45 L214.1,231.58 L214.3,231.04 L214.5,231.02 L214.7,230.77 L214.9,230.29 L215.1,230.49 L215.3,229.98 L215.5,229.94 L215.7,230.10 L215.9,229.96 L216.1,230.42 L216.3,230.64 L216.5,230.92 L216.7,231.10 L216.9,231.67 L217.1,231.81 L217.3,232.02 L217.5,232.12 L217.7,232.11 L217.9,232.47 L218.1,232.27 L218.3,232.53 L218.5,232.52 L218.7,232.66 L218.9,232.56 L219.1,232.33 L219.3,232.49 L219.5,232.41 L219.7,232.63 L219.9,232.60 L220.1,232.57 L220.3,232.37 L220.5,232.27 L220.7,232.11 L220.9,232.37 L221.1,231.88 L221.3,231.59 L221.5,231.48 L221.7,231.35 L221.9,230.72 L222.1,230.22 L222.3,229.33 L222.5,228.04 L222.7,227.21 L222.9,226.21 L223.1,225.28 L223.3,224.57 L223.5,224.38 L223.7,224.39 L223.9,224.75 L224.1,225.37 L224.3,226.31 L224.5,227.26 L224.7,228.50 L224.9,229.21 L225.1,230.13 L225.3,230.64 L225.5,231.49 L225.7,231.85 L225.9,232.21 L226.1,232.05 L226.3,232.13 L226.5,232.37 L226.7,232.59 L226.9,232.42 L227.1,232.46 L227.3,232.59 L227.5,232.72 L227.7,232.67 L227.9,232.54 L228.1,232.50 L228.3,232.33 L228.5,232.08 L228.7,231.75 L228.9,231.98 L229.1,231.47 L229.3,231.45 L229.5,231.08 L229.7,230.33 L229.9,229.95 L230.1,229.15 L230.3,228.54 L230.5,227.62 L230.7,225.90 L230.9,223.76 L231.1,220.98 L231.3,217.78 L231.5,214.37 L231.7,210.47 L231.9,206.75 L232.1,203.05 L232.3,200.69 L232.5,199.35 L232.7,199.42 L232.9,200.83 L233.1,203.08 L233.3,206.81 L233.5,210.29 L233.7,214.68 L233.9,217.97 L234.1,221.54 L234.3,224.22 L234.5,225.92 L234.7,227.72 L234.9,228.63 L235.1,229.77 L235.3,230.49 L235.5,230.65 L235.7,231.10 L235.9,231.39 L236.1,231.76 L236.3,232.36 L236.5,232.32 L236.7,232.49 L236.9,232.79 L237.1,232.71 L237.3,233.17 L237.5,232.91 L237.7,233.11 L237.9,233.51 L238.1,233.54 L238.3,233.24 L238.5,233.15 L238.7,233.49 L238.9,233.34 L239.1,233.08 L239.3,233.29 L239.5,232.84 L239.7,232.91 L239.9,232.96 L240.1,232.58 L240.3,232.18 L240.5,231.86 L240.7,231.24 L240.9,230.87 L241.1,229.78 L241.3,229.11 L241.5,228.00 L241.7,227.01 L241.9,226.18 L242.1,225.39 L242.3,224.60 L242.5,224.21 L242.7,224.30 L242.9,224.74 L243.1,225.49 L243.3,226.43 L243.5,226.93 L243.7,228.08 L243.9,229.01 L244.1,230.16 L244.3,230.81 L244.5,231.28 L244.7,231.88 L244.9,232.41 L245.1,232.88 L245.3,233.06 L245.5,233.02 L245.7,233.43 L245.9,233.41 L246.1,233.56 L246.3,233.51 L246.5,233.64 L246.7,233.98 L246.9,234.19 L247.1,234.12 L247.3,234.10 L247.5,234.07 L247.7,234.00 L247.9,234.00 L248.1,234.46 L248.3,234.09 L248.5,234.13 L248.7,234.12 L248.9,234.28 L249.1,234.45 L249.3,234.17 L249.5,234.19 L249.7,234.26 L249.9,234.14 L250.1,234.41 L250.3,234.52 L250.5,234.26 L250.7,234.09 L250.9,234.34 L251.1,233.99 L251.3,233.81 L251.5,234.07 L251.7,233.79 L251.9,233.66 L252.1,233.69 L252.3,233.77 L252.5,233.72 L252.7,233.48 L252.9,233.51 L253.1,233.75 L253.3,234.03 L253.5,233.78 L253.7,233.91 L253.9,234.29 L254.1,234.23 L254.3,234.16 L254.5,234.24 L254.7,234.49 L254.9,234.56 L255.1,234.55 L255.3,234.78 L255.5,234.81 L255.7,234.84 L255.9,234.60 L256.1,234.79 L256.3,234.70 L256.5,234.80 L256.7,234.76 L256.9,234.96 L257.1,235.02 L257.3,234.56 L257.5,234.88 L257.7,235.02 L257.9,234.77 L258.1,234.70 L258.3,235.02 L258.5,234.80 L258.7,234.93 L258.9,234.85 L259.1,235.10 L259.3,235.10 L259.5,234.62 L259.7,234.68 L259.9,234.87 L260.1,234.82 L260.3,234.96 L260.5,234.69 L260.7,234.84 L260.9,234.55 L261.1,234.60 L261.3,234.53 L261.5,234.40 L261.7,234.69 L261.9,234.72 L262.1,234.56 L262.3,234.49 L262.5,234.45 L262.7,234.39 L262.9,234.07 L263.1,233.86 L263.3,234.03 L263.5,233.77 L263.7,233.80 L263.9,234.26 L264.1,234.05 L264.3,234.22 L264.5,234.45 L264.7,234.12 L264.9,234.58 L265.1,234.53 L265.3,234.59 L265.5,234.53 L265.7,234.76 L265.9,234.97 L266.1,235.01 L266.3,235.21 L266.5,234.86 L266.7,234.89 L266.9,235.31 L267.1,235.43 L267.3,235.35 L267.5,235.33 L267.7,235.08 L267.9,235.10 L268.1,235.15 L268.3,235.56 L268.5,235.21 L268.7,235.27 L268.9,235.32 L269.1,235.16 L269.3,235.64 L269.5,235.61 L269.7,235.32 L269.9,235.24 L270.1,235.39 L270.3,235.59 L270.5,235.46 L270.7,235.39 L270.9,235.73 L271.1,235.63 L271.3,235.68 L271.5,235.75 L271.7,235.59 L271.9,235.75 L272.1,235.73 L272.3,235.79 L272.5,235.53 L272.7,235.88 L272.9,235.53 L273.1,235.81 L273.3,235.90 L273.5,235.46 L273.7,235.82 L273.9,235.48 L274.1,235.52 L274.3,235.52 L274.5,235.90 L274.7,235.76 L274.9,235.95 L275.1,235.54 L275.3,235.59 L275.5,235.71 L275.7,235.81 L275.9,235.88 L276.1,235.64 L276.3,235.83 L276.5,235.76 L276.7,236.01 L276.9,235.98 L277.1,236.08 L277.3,235.76 L277.5,235.85 L277.7,236.06 L277.9,235.71 L278.1,236.02 L278.3,235.96 L278.5,236.10 L278.7,236.05 L278.9,235.77 L279.1,236.04 L279.3,236.13 L279.5,235.98 L279.7,236.07 L279.9,235.79 L280.1,236.19 L280.3,235.76 L280.5,236.22 L280.7,235.80 L280.9,235.91 L281.1,236.13 L281.3,236.00 L281.5,236.09 L281.7,236.09 L281.9,236.12 L282.1,236.02 L282.3,235.70 L282.5,235.68 L282.7,235.70 L282.9,236.10 L283.1,235.98 L283.3,235.65 L283.5,236.04 L283.7,235.67 L283.9,235.85 L284.1,235.47 L284.3,235.90 L284.5,235.45 L284.7,235.62 L284.9,235.65 L285.1,235.65 L285.3,235.15 L285.5,235.20 L285.7,235.26 L285.9,235.00 L286.1,234.60 L286.3,234.73 L286.5,234.28 L286.7,234.15 L286.9,233.67 L287.1,232.81 L287.3,232.15 L287.5,231.60 L287.7,230.75 L287.9,229.77 L288.1,228.53 L288.3,227.67 L288.5,227.01 L288.7,226.48 L288.9,225.98 L289.1,225.93 L289.3,226.18 L289.5,226.86 L289.7,227.82 L289.9,228.81 L290.1,229.45 L290.3,230.59 L290.5,231.34 L290.7,232.49 L290.9,232.80 L291.1,233.60 L291.3,233.80 L291.5,234.14 L291.7,234.60 L291.9,235.05 L292.1,234.77 L292.3,235.12 L292.5,235.04 L292.7,235.44 L292.9,235.56 L293.1,235.31 L293.3,235.61 L293.5,235.77 L293.7,235.72 L293.9,235.65 L294.1,235.99 L294.3,235.76 L294.5,235.82 L294.7,235.81 L294.9,236.02 L295.1,235.73 L295.3,235.69 L295.5,235.66 L295.7,235.93 L295.9,235.72 L296.1,235.87 L296.3,235.66 L296.5,235.98 L296.7,235.54 L296.9,235.47 L297.1,235.65 L297.3,235.60 L297.5,235.54 L297.7,235.48 L297.9,235.67 L298.1,235.13 L298.3,235.42 L298.5,235.35 L298.7,235.28 L298.9,235.09 L299.1,234.65 L299.3,234.86 L299.5,234.60 L299.7,234.01 L299.9,233.90 L300.1,233.54 L300.3,232.71 L300.5,232.09 L300.7,231.40 L300.9,230.51 L301.1,229.96 L301.3,228.71 L301.5,227.96 L301.7,227.54 L301.9,226.89 L302.1,226.26 L302.3,226.03 L302.5,226.14 L302.7,226.45 L302.9,226.75 L303.1,227.50 L303.3,228.02 L303.5,228.72 L303.7,229.94 L303.9,230.58 L304.1,231.29 L304.3,232.30 L304.5,232.60 L304.7,233.09 L304.9,233.80 L305.1,234.15 L305.3,234.23 L305.5,234.62 L305.7,234.87 L305.9,234.75 L306.1,234.95 L306.3,235.28 L306.5,235.42 L306.7,235.45 L306.9,235.47 L307.1,235.26 L307.3,235.41 L307.5,235.41 L307.7,235.50 L307.9,235.53 L308.1,235.97 L308.3,235.77 L308.5,235.58 L308.7,235.62 L308.9,235.98 L309.1,235.92 L309.3,235.83 L309.5,235.97 L309.7,235.90 L309.9,236.14 L310.1,235.96 L310.3,235.92 L310.5,236.16 L310.7,236.09 L310.9,235.67 L311.1,235.75 L311.3,235.65 L311.5,235.78 L311.7,235.66 L311.9,235.60 L312.1,235.56 L312.3,235.95 L312.5,235.61 L312.7,235.76 L312.9,235.52 L313.1,235.69 L313.3,235.52 L313.5,235.31 L313.7,235.45 L313.9,235.62 L314.1,235.49 L314.3,235.54 L314.5,235.30 L314.7,235.66 L314.9,235.68 L315.1,235.54 L315.3,235.84 L315.5,235.64 L315.7,235.50 L315.9,235.76 L316.1,235.92 L316.3,235.86 L316.5,235.85 L316.7,236.07 L316.9,236.11 L317.1,236.13 L317.3,236.06 L317.5,236.02 L317.7,236.09 L317.9,236.12 L318.1,236.21 L318.3,235.99 L318.5,235.85 L318.7,235.97 L318.9,235.99 L319.1,235.96 L319.3,236.19 L319.5,235.94 L319.7,236.07 L319.9,236.02 L320.1,236.00 L320.3,236.07 L320.5,236.15 L320.7,236.19 L320.9,236.20 L321.1,236.06 L321.3,236.13 L321.5,236.03 L321.7,236.31 L321.9,236.15 L322.1,235.89 L322.3,236.21 L322.5,236.05 L322.7,236.08 L322.9,236.19 L323.1,235.84 L323.3,236.18 L323.5,235.94 L323.7,236.25 L323.9,236.30 L324.1,235.89 L324.3,236.11 L324.5,236.30 L324.7,236.13 L324.9,236.10 L325.1,235.95 L325.3,236.26 L325.5,236.20 L325.7,235.83 L325.9,235.94 L326.1,236.22 L326.3,236.12 L326.5,236.10 L326.7,235.93 L326.9,235.95 L327.1,235.82 L327.3,235.82 L327.5,235.95 L327.7,235.82 L327.9,235.80 L328.1,235.77 L328.3,235.88 L328.5,235.70 L328.7,235.70 L328.9,235.56 L329.1,235.91 L329.3,235.48 L329.5,235.85 L329.7,235.38 L329.9,235.36 L330.1,235.26 L330.3,234.85 L330.5,234.83 L330.7,234.64 L330.9,234.16 L331.1,233.78 L331.3,233.57 L331.5,233.34 L331.7,232.99 L331.9,232.72 L332.1,232.40 L332.3,232.52 L332.5,232.47 L332.7,232.49 L332.9,232.76 L333.1,233.06 L333.3,233.14 L333.5,233.45 L333.7,233.98 L333.9,234.33 L334.1,234.77 L334.3,234.97 L334.5,235.27 L334.7,235.23 L334.9,235.37 L335.1,235.73 L335.3,235.40 L335.5,235.77 L335.7,235.57 L335.9,235.61 L336.1,235.59 L336.3,236.00 L336.5,235.92 L336.7,235.71 L336.9,236.18 L337.1,236.19 L337.3,235.95 L337.5,236.00 L337.7,235.80 L337.9,235.89 L338.1,236.02 L338.3,235.80 L338.5,236.05 L338.7,236.06 L338.9,235.98 L339.1,236.14 L339.3,236.16 L339.5,236.04 L339.7,236.17 L339.9,235.87 L340.1,236.01 L340.3,236.09 L340.5,236.30 L340.7,236.16 L340.9,236.15 L341.1,236.07 L341.3,236.06 L341.5,235.90 L341.7,235.86 L341.9,236.10 L342.1,236.12 L342.3,236.02 L342.5,235.83 L342.7,236.15 L342.9,236.05 L343.1,235.91 L343.3,236.22 L343.5,236.14 L343.7,235.80 L343.9,235.87 L344.1,236.01 L344.3,236.20 L344.5,235.79 L344.7,235.87 L344.9,235.78 L345.1,235.66 L345.3,235.67 L345.5,235.86 L345.7,235.93 L345.9,235.81 L346.1,235.63 L346.3,235.57 L346.5,235.66 L346.7,235.61 L346.9,235.33 L347.1,235.30 L347.3,235.39 L347.5,235.05 L347.7,235.23 L347.9,235.55 L348.1,235.39 L348.3,235.25 L348.5,235.55 L348.7,235.42 L348.9,235.83 L349.1,235.74 L349.3,235.54 L349.5,235.73 L349.7,235.74 L349.9,236.02 L350.1,235.91 L350.3,235.92 L350.5,236.09 L350.7,235.93 L350.9,236.00 L351.1,235.79 L351.3,236.01 L351.5,236.10 L351.7,236.26 L351.9,236.25 L352.1,235.95 L352.3,236.28 L352.5,236.29 L352.7,236.26 L352.9,236.09 L353.1,235.95 L353.3,236.06 L353.5,235.96 L353.7,236.34 L353.9,236.37 L354.1,235.99 L354.3,236.22 L354.5,236.02 L354.7,236.21 L354.9,236.30 L355.1,236.26 L355.3,236.34 L355.5,235.94 L355.7,236.10 L355.9,236.22 L356.1,236.17 L356.3,236.20 L356.5,236.37 L356.7,235.95 L356.9,236.11 L357.1,235.92 L357.3,236.18 L357.5,236.09 L357.7,236.28 L357.9,236.38 L358.1,235.94 L358.3,235.98 L358.5,236.25 L358.7,235.96 L358.9,236.00 L359.1,236.25 L359.3,236.11 L359.5,235.93 L359.7,236.16 L359.9,235.93 L360.1,236.29 L360.3,236.21 L360.5,236.05 L360.7,236.30 L360.9,236.26 L361.1,235.97 L361.3,236.17 L361.5,236.01 L361.7,236.29 L361.9,236.32 L362.1,236.23 L362.3,236.32 L362.5,235.93 L362.7,236.27 L362.9,236.13 L363.1,236.36 L363.3,236.15 L363.5,236.22 L363.7,236.21 L363.9,236.38 L364.1,236.35 L364.3,236.00 L364.5,236.24 L364.7,236.29 L364.9,236.32 L365.1,236.28 L365.3,236.30 L365.5,236.40 L365.7,236.09 L365.9,236.25 L366.1,236.34 L366.3,236.07 L366.5,236.37 L366.7,236.29 L366.9,236.00 L367.1,236.36 L367.3,236.20 L367.5,236.00 L367.7,236.02 L367.9,236.34 L368.1,236.25 L368.3,236.06 L368.5,236.24 L368.7,235.95 L368.9,236.32 L369.1,235.95 L369.3,236.17 L369.5,236.31 L369.7,236.20 L369.9,236.36 L370.1,236.07 L370.3,236.30 L370.5,235.98 L370.7,236.14 L370.9,236.25 L371.1,236.31 L371.3,236.13 L371.5,236.32 L371.7,235.99 L371.9,236.37 L372.1,236.18 L372.3,236.16 L372.5,236.30 L372.7,236.05 L372.9,236.24 L373.1,236.10 L373.3,236.15 L373.5,236.28 L373.7,236.24 L373.9,236.39 L374.1,236.35 L374.3,236.01 L374.5,236.28 L374.7,236.11 L374.9,236.38 L375.1,236.16 L375.3,236.26 L375.5,236.19 L375.7,236.29 L375.9,236.41 L376.1,236.28 L376.3,236.33 L376.5,236.38 L376.7,236.08 L376.9,236.30 L377.1,236.24 L377.3,235.99 L377.5,236.05 L377.7,236.00 L377.9,236.01 L378.1,236.38 L378.3,236.31 L378.5,236.43 L378.7,236.10 L378.9,236.11 L379.1,236.27 L379.3,236.24 L379.5,236.12 L379.7,236.10 L379.9,236.32 L380.1,236.02 L380.3,236.27 L380.5,236.13 L380.7,236.36 L380.9,236.39 L381.1,235.99 L381.3,236.08 L381.5,236.09 L381.7,236.43 L381.9,236.43 L382.1,236.37 L382.3,236.35 L382.5,236.30 L382.7,236.26 L382.9,236.43 L383.1,236.30 L383.3,236.13 L383.5,236.36 L383.7,236.03 L383.9,236.17 L384.1,236.10 L384.3,236.33 L384.5,236.24 L384.7,236.11 L384.9,236.28 L385.1,236.46 L385.3,236.04 L385.5,236.07 L385.7,236.32 L385.9,236.44 L386.1,236.03 L386.3,236.16 L386.5,236.44 L386.7,236.34 L386.9,236.40 L387.1,236.06 L387.3,236.35 L387.5,236.00 L387.7,236.08 L387.9,236.42 L388.1,236.11 L388.3,236.26 L388.5,236.08 L388.7,236.04 L388.9,236.31 L389.1,236.41 L389.3,235.98 L389.5,236.23 L389.7,235.98 L389.9,236.09 L390.1,236.06 L390.3,236.01 L390.5,236.11 L390.7,236.19 L390.9,236.38 L391.1,236.04 L391.3,236.17 L391.5,236.11 L391.7,235.89 L391.9,236.27 L392.1,235.94 L392.3,236.28 L392.5,235.92 L392.7,235.85 L392.9,236.09 L393.1,235.92 L393.3,235.67 L393.5,235.80 L393.7,235.81 L393.9,235.91 L394.1,235.96 L394.3,235.76 L394.5,235.68 L394.7,235.72 L394.9,235.60 L395.1,235.61 L395.3,235.24 L395.5,235.16 L395.7,235.27 L395.9,235.13 L396.1,234.82 L396.3,234.66 L396.5,234.17 L396.7,234.17 L396.9,233.84 L397.1,233.14 L397.3,233.03 L397.5,232.28 L397.7,231.80 L397.9,230.91 L398.1,230.37 L398.3,229.59 L398.5,229.22 L398.7,228.36 L398.9,227.86 L399.1,227.50 L399.3,227.04 L399.5,226.85 L399.7,227.21 L399.9,227.28 L400.1,227.55 L400.3,228.06 L400.5,228.67 L400.7,229.17 L400.9,229.87 L401.1,230.30 L401.3,231.10 L401.5,231.92 L401.7,232.41 L401.9,232.88 L402.1,233.41 L402.3,233.92 L402.5,234.32 L402.7,234.64 L402.9,234.39 L403.1,234.72 L403.3,235.22 L403.5,235.04 L403.7,235.02 L403.9,235.33 L404.1,235.64 L404.3,235.53 L404.5,235.62 L404.7,235.80 L404.9,235.68 L405.1,236.00 L405.3,235.59 L405.5,235.77 L405.7,235.82 L405.9,235.70 L406.1,235.88 L406.3,236.11 L406.5,236.14 L406.7,236.22 L406.9,236.30 L407.1,235.94 L407.3,235.93 L407.5,236.22 L407.7,236.29 L407.9,236.07 L408.1,235.98 L408.3,235.95 L408.5,236.34 L408.7,236.03 L408.9,236.02 L409.1,236.06 L409.3,236.28 L409.5,236.35 L409.7,236.03 L409.9,236.28 L410.1,236.26 L410.3,236.17 L410.5,236.26 L410.7,236.02 L410.9,236.32 L411.1,236.41 L411.3,236.15 L411.5,236.11 L411.7,236.02 L411.9,236.07 L412.1,235.96 L412.3,235.94 L412.5,236.16 L412.7,236.15 L412.9,236.32 L413.1,236.24 L413.3,236.09 L413.5,236.34 L413.7,236.03 L413.9,236.28 L414.1,236.13 L414.3,235.86 L414.5,236.29 L414.7,236.31 L414.9,236.09 L415.1,236.21 L415.3,235.93 L415.5,236.27 L415.7,235.83 L415.9,235.81 L416.1,235.82 L416.3,235.97 L416.5,236.02 L416.7,235.80 L416.9,235.84 L417.1,235.85 L417.3,235.85 L417.5,235.75 L417.7,235.59 L417.9,235.46 L418.1,235.36 L418.3,235.67 L418.5,235.54 L418.7,235.40 L418.9,235.27 L419.1,235.31 L419.3,235.31 L419.5,235.29 L419.7,235.10 L419.9,234.96 L420.1,234.64 L420.3,234.60 L420.5,234.56 L420.7,234.45 L420.9,234.40 L421.1,234.53 L421.3,234.40 L421.5,234.75 L421.7,234.42 L421.9,234.45 L422.1,234.60 L422.3,234.48 L422.5,234.30 L422.7,234.57 L422.9,234.52 L423.1,234.74 L423.3,234.77 L423.5,234.56 L423.7,235.05 L423.9,235.03 L424.1,234.86 L424.3,235.05 L424.5,235.30 L424.7,235.09 L424.9,235.31 L425.1,235.27 L425.3,235.43 L425.5,235.44 L425.7,235.48 L425.9,235.63 L426.1,235.83 L426.3,235.85 L426.5,235.54 L426.7,235.76 L426.9,236.02 L427.1,235.68 L427.3,236.02 L427.5,236.13 L427.7,235.94 L427.9,236.11 L428.1,236.01 L428.3,236.00 L428.5,236.18 L428.7,236.03 L428.9,236.27 L429.1,236.09 L429.3,236.06 L429.5,236.33 L429.7,236.17 L429.9,236.35 L430.1,236.18 L430.3,235.97 L430.5,236.14 L430.7,236.06 L430.9,236.05 L431.1,236.38 L431.3,235.94 L431.5,236.09 L431.7,236.40 L431.9,236.04 L432.1,236.27 L432.3,236.38 L432.5,235.99 L432.7,236.20 L432.9,236.09 L433.1,236.42 L433.1,239.1 Z" fill="#ffff00"/>
<line x1="169.8" y1="239.6" x2="433.1" y2="239.6" stroke="#222" stroke-width="1"/>
<line x1="169.4" y1="140" x2="169.4" y2="240.1" stroke="#7a7a6a" stroke-width="0.8"/>
<line x1="165.8" y1="158.4" x2="169.8" y2="158.4" stroke="#333" stroke-width="0.8"/>
<text x="165.3" y="160.9" text-anchor="end" font-size="7.2" fill="#222" font-family="Liberation Sans, sans-serif">1200</text>
<line x1="165.8" y1="185.4" x2="169.8" y2="185.4" stroke="#333" stroke-width="0.8"/>
<text x="165.3" y="187.9" text-anchor="end" font-size="7.2" fill="#222" font-family="Liberation Sans, sans-serif">800</text>
<line x1="165.8" y1="212" x2="169.8" y2="212" stroke="#333" stroke-width="0.8"/>
<text x="165.3" y="214.5" text-anchor="end" font-size="7.2" fill="#222" font-family="Liberation Sans, sans-serif">400</text>
<line x1="169.7" y1="239.1" x2="169.7" y2="242.6" stroke="#333" stroke-width="0.8"/>
<text x="169.7" y="251.5" text-anchor="middle" font-size="8.6" fill="#222" font-family="Liberation Sans, sans-serif">0</text>
<line x1="205.64" y1="239.1" x2="205.64" y2="242.6" stroke="#333" stroke-width="0.8"/>
<text x="205.64" y="251.5" text-anchor="middle" font-size="8.6" fill="#222" font-family="Liberation Sans, sans-serif">1</text>
<line x1="241.57999999999998" y1="239.1" x2="241.57999999999998" y2="242.6" stroke="#333" stroke-width="0.8"/>
<text x="241.57999999999998" y="251.5" text-anchor="middle" font-size="8.6" fill="#222" font-family="Liberation Sans, sans-serif">2</text>
<line x1="277.52" y1="239.1" x2="277.52" y2="242.6" stroke="#333" stroke-width="0.8"/>
<text x="277.52" y="251.5" text-anchor="middle" font-size="8.6" fill="#222" font-family="Liberation Sans, sans-serif">3</text>
<line x1="313.46" y1="239.1" x2="313.46" y2="242.6" stroke="#333" stroke-width="0.8"/>
<text x="313.46" y="251.5" text-anchor="middle" font-size="8.6" fill="#222" font-family="Liberation Sans, sans-serif">4</text>
<line x1="349.4" y1="239.1" x2="349.4" y2="242.6" stroke="#333" stroke-width="0.8"/>
<text x="349.4" y="251.5" text-anchor="middle" font-size="8.6" fill="#222" font-family="Liberation Sans, sans-serif">5</text>
<line x1="385.34" y1="239.1" x2="385.34" y2="242.6" stroke="#333" stroke-width="0.8"/>
<text x="385.34" y="251.5" text-anchor="middle" font-size="8.6" fill="#222" font-family="Liberation Sans, sans-serif">6</text>
<line x1="421.28" y1="239.1" x2="421.28" y2="242.6" stroke="#333" stroke-width="0.8"/>
<text x="421.28" y="251.5" text-anchor="middle" font-size="8.6" fill="#222" font-family="Liberation Sans, sans-serif">7</text>
<text x="293.2" y="262.2" font-size="9" fill="#222" font-family="Liberation Sans, sans-serif">keV</text>
<text x="180" y="156" text-anchor="middle" font-size="7" font-weight="bold" fill="#fff" font-family="Liberation Sans, sans-serif">C</text>
<text x="189" y="156" text-anchor="middle" font-size="7" font-weight="bold" fill="#fff" font-family="Liberation Sans, sans-serif">O</text>
<text x="184.6" y="179" text-anchor="middle" font-size="7" font-weight="bold" fill="#fff" font-family="Liberation Sans, sans-serif">N</text>
<text x="233.6" y="196.5" text-anchor="middle" font-size="7" font-weight="bold" fill="#fff" font-family="Liberation Sans, sans-serif">Si</text>
<text x="196.6" y="222" text-anchor="middle" font-size="7" font-weight="bold" fill="#fff" font-family="Liberation Sans, sans-serif">Fe</text>
<text x="215.6" y="227.5" text-anchor="middle" font-size="7" font-weight="bold" fill="#fff" font-family="Liberation Sans, sans-serif">Mg</text>
<text x="223.6" y="221" text-anchor="middle" font-size="7" font-weight="bold" fill="#fff" font-family="Liberation Sans, sans-serif">Al</text>
<text x="243.6" y="222" text-anchor="middle" font-size="7" font-weight="bold" fill="#fff" font-family="Liberation Sans, sans-serif">P</text>
<text x="253.6" y="230.5" text-anchor="middle" font-size="7" font-weight="bold" fill="#fff" font-family="Liberation Sans, sans-serif">S</text>
<text x="289" y="223.5" text-anchor="middle" font-size="7" font-weight="bold" fill="#fff" font-family="Liberation Sans, sans-serif">K</text>
<text x="302.4" y="222" text-anchor="middle" font-size="7" font-weight="bold" fill="#fff" font-family="Liberation Sans, sans-serif">Ca</text>
<text x="314.6" y="232" text-anchor="middle" font-size="7" font-weight="bold" fill="#fff" font-family="Liberation Sans, sans-serif">Ca</text>
<text x="332" y="228.5" text-anchor="middle" font-size="7" font-weight="bold" fill="#fff" font-family="Liberation Sans, sans-serif">Ti</text>
<text x="399.6" y="224" text-anchor="middle" font-size="7" font-weight="bold" fill="#fff" font-family="Liberation Sans, sans-serif">Fe</text>
<text x="422" y="233" text-anchor="middle" font-size="7" font-weight="bold" fill="#fff" font-family="Liberation Sans, sans-serif">Fe</text>
<text x="414.3" y="161.7" font-size="18" font-weight="bold" fill="#ffff00" font-family="Liberation Sans, sans-serif">E</text>
<rect x="172.4" y="275.6" width="260.4" height="97.69999999999999" fill="#1e00ff" stroke="#24148a" stroke-width="0.6"/>
<rect x="178" y="275.6" width="28" height="14" fill="#0800fa"/>
<rect x="228" y="300" width="8" height="7" fill="#0800fa"/>
<rect x="391.6" y="283.6" width="13" height="7.4" fill="#0800fa"/>
<rect x="282.3" y="357.8" width="11" height="5.5" fill="#0800fa"/>
<path d="M172.9,373.3 L172.9,372.86 L173.1,373.22 L173.3,373.13 L173.5,373.06 L173.7,373.24 L173.9,372.95 L174.1,373.14 L174.3,373.10 L174.5,372.90 L174.7,373.04 L174.9,372.81 L175.1,372.48 L175.3,371.45 L175.5,370.70 L175.7,369.61 L175.9,368.72 L176.1,368.17 L176.3,367.18 L176.5,366.68 L176.7,365.76 L176.9,365.10 L177.1,364.32 L177.3,363.95 L177.5,363.09 L177.7,362.14 L177.9,361.21 L178.1,360.38 L178.3,359.99 L178.5,358.69 L178.7,357.48 L178.9,355.10 L179.1,351.85 L179.3,347.70 L179.5,341.00 L179.7,332.54 L179.9,321.41 L180.1,307.07 L180.3,290.60 L180.5,290.60 L180.7,290.60 L180.9,290.60 L181.1,290.60 L181.3,290.60 L181.5,290.60 L181.7,290.60 L181.9,290.60 L182.1,290.60 L182.3,290.60 L182.5,290.60 L182.7,290.60 L182.9,290.60 L183.1,290.60 L183.3,290.60 L183.5,290.60 L183.7,290.60 L183.9,290.60 L184.1,296.99 L184.3,312.78 L184.5,325.02 L184.7,334.26 L184.9,341.17 L185.1,346.34 L185.3,349.56 L185.5,351.39 L185.7,352.54 L185.9,352.85 L186.1,352.26 L186.3,351.49 L186.5,350.34 L186.7,350.37 L186.9,350.76 L187.1,352.13 L187.3,353.73 L187.5,354.50 L187.7,354.64 L187.9,353.29 L188.1,350.91 L188.3,346.76 L188.5,340.02 L188.7,330.41 L188.9,317.40 L189.1,300.52 L189.3,290.60 L189.5,290.60 L189.7,290.60 L189.9,290.60 L190.1,290.60 L190.3,290.60 L190.5,290.60 L190.7,290.60 L190.9,290.60 L191.1,290.60 L191.3,290.60 L191.5,290.60 L191.7,290.60 L191.9,290.60 L192.1,290.60 L192.3,290.60 L192.5,290.60 L192.7,297.75 L192.9,314.33 L193.1,327.54 L193.3,336.60 L193.5,343.00 L193.7,347.29 L193.9,350.08 L194.1,351.78 L194.3,352.66 L194.5,353.28 L194.7,353.54 L194.9,353.20 L195.1,352.72 L195.3,351.73 L195.5,350.14 L195.7,347.50 L195.9,343.00 L196.1,337.19 L196.3,329.92 L196.5,321.14 L196.7,312.05 L196.9,303.35 L197.1,296.79 L197.3,293.44 L197.5,293.57 L197.7,297.63 L197.9,304.47 L198.1,313.85 L198.3,323.67 L198.5,332.98 L198.7,340.91 L198.9,347.08 L199.1,351.89 L199.3,355.39 L199.5,357.30 L199.7,359.11 L199.9,360.24 L200.1,361.05 L200.3,361.90 L200.5,362.62 L200.7,363.28 L200.9,363.77 L201.1,364.16 L201.3,364.13 L201.5,364.41 L201.7,364.39 L201.9,364.87 L202.1,364.75 L202.3,365.08 L202.5,365.50 L202.7,365.60 L202.9,365.54 L203.1,365.39 L203.3,365.66 L203.5,365.36 L203.7,365.38 L203.9,364.92 L204.1,364.97 L204.3,364.32 L204.5,363.60 L204.7,363.41 L204.9,363.03 L205.1,362.95 L205.3,362.93 L205.5,363.17 L205.7,363.45 L205.9,364.29 L206.1,364.81 L206.3,365.46 L206.5,365.70 L206.7,365.92 L206.9,366.28 L207.1,366.68 L207.3,366.53 L207.5,366.52 L207.7,366.78 L207.9,367.11 L208.1,366.81 L208.3,366.83 L208.5,367.16 L208.7,367.31 L208.9,367.33 L209.1,367.19 L209.3,367.06 L209.5,367.21 L209.7,367.10 L209.9,367.49 L210.1,367.46 L210.3,367.28 L210.5,367.36 L210.7,367.51 L210.9,367.39 L211.1,367.59 L211.3,367.75 L211.5,367.60 L211.7,367.81 L211.9,367.54 L212.1,367.71 L212.3,367.65 L212.5,367.62 L212.7,367.81 L212.9,367.73 L213.1,367.97 L213.3,367.53 L213.5,367.73 L213.7,367.53 L213.9,368.01 L214.1,367.75 L214.3,367.70 L214.5,367.90 L214.7,368.02 L214.9,367.98 L215.1,367.97 L215.3,367.63 L215.5,367.91 L215.7,367.46 L215.9,367.55 L216.1,367.36 L216.3,367.20 L216.5,367.09 L216.7,366.95 L216.9,366.94 L217.1,367.11 L217.3,367.00 L217.5,367.39 L217.7,367.34 L217.9,367.51 L218.1,367.70 L218.3,368.10 L218.5,368.01 L218.7,368.02 L218.9,368.37 L219.1,368.53 L219.3,368.46 L219.5,368.30 L219.7,368.75 L219.9,368.84 L220.1,368.64 L220.3,368.57 L220.5,368.53 L220.7,368.75 L220.9,368.44 L221.1,368.82 L221.3,368.55 L221.5,368.87 L221.7,368.88 L221.9,368.79 L222.1,368.78 L222.3,368.51 L222.5,368.40 L222.7,368.47 L222.9,367.92 L223.1,367.96 L223.3,367.71 L223.5,367.21 L223.7,366.30 L223.9,365.44 L224.1,364.99 L224.3,364.23 L224.5,363.15 L224.7,362.96 L224.9,362.44 L225.1,362.87 L225.3,363.32 L225.5,364.20 L225.7,364.84 L225.9,365.88 L226.1,366.74 L226.3,367.11 L226.5,368.02 L226.7,368.07 L226.9,368.65 L227.1,368.51 L227.3,368.71 L227.5,368.51 L227.7,368.90 L227.9,368.60 L228.1,368.59 L228.3,368.21 L228.5,368.03 L228.7,367.95 L228.9,367.87 L229.1,367.52 L229.3,367.15 L229.5,366.64 L229.7,366.26 L229.9,365.73 L230.1,364.82 L230.3,364.14 L230.5,363.40 L230.7,361.91 L230.9,360.81 L231.1,358.70 L231.3,356.38 L231.5,352.79 L231.7,348.74 L231.9,344.17 L232.1,338.32 L232.3,332.17 L232.5,326.16 L232.7,320.19 L232.9,315.00 L233.1,311.05 L233.3,309.43 L233.5,309.16 L233.7,311.17 L233.9,314.97 L234.1,319.99 L234.3,325.77 L234.5,332.36 L234.7,338.13 L234.9,343.97 L235.1,348.61 L235.3,352.60 L235.5,356.16 L235.7,358.32 L235.9,360.18 L236.1,361.99 L236.3,363.25 L236.5,364.10 L236.7,364.40 L236.9,365.49 L237.1,365.57 L237.3,366.42 L237.5,366.54 L237.7,367.22 L237.9,367.50 L238.1,367.52 L238.3,368.06 L238.5,368.13 L238.7,368.04 L238.9,368.31 L239.1,368.36 L239.3,368.41 L239.5,368.96 L239.7,368.91 L239.9,368.65 L240.1,368.70 L240.3,368.98 L240.5,368.67 L240.7,368.67 L240.9,368.37 L241.1,368.23 L241.3,367.86 L241.5,366.82 L241.7,366.48 L241.9,365.41 L242.1,364.93 L242.3,363.91 L242.5,363.34 L242.7,362.64 L242.9,362.48 L243.1,362.26 L243.3,362.86 L243.5,363.17 L243.7,364.09 L243.9,365.18 L244.1,365.97 L244.3,366.75 L244.5,367.28 L244.7,368.17 L244.9,368.73 L245.1,368.72 L245.3,369.05 L245.5,369.34 L245.7,369.74 L245.9,369.93 L246.1,370.01 L246.3,370.21 L246.5,370.32 L246.7,370.17 L246.9,370.30 L247.1,370.30 L247.3,370.46 L247.5,370.70 L247.7,370.42 L247.9,370.49 L248.1,370.58 L248.3,370.60 L248.5,370.55 L248.7,370.42 L248.9,370.48 L249.1,370.57 L249.3,370.74 L249.5,370.79 L249.7,370.74 L249.9,370.47 L250.1,370.76 L250.3,370.76 L250.5,370.75 L250.7,370.88 L250.9,370.45 L251.1,370.94 L251.3,370.64 L251.5,370.46 L251.7,370.79 L251.9,370.59 L252.1,370.67 L252.3,370.70 L252.5,370.67 L252.7,370.65 L252.9,370.21 L253.1,370.16 L253.3,370.01 L253.5,370.36 L253.7,369.97 L253.9,370.11 L254.1,369.93 L254.3,369.98 L254.5,370.13 L254.7,369.86 L254.9,370.42 L255.1,370.14 L255.3,370.18 L255.5,370.44 L255.7,370.48 L255.9,370.35 L256.1,370.80 L256.3,370.65 L256.5,370.63 L256.7,370.85 L256.9,370.70 L257.1,370.88 L257.3,370.83 L257.5,370.81 L257.7,370.79 L257.9,370.98 L258.1,370.83 L258.3,370.89 L258.5,371.05 L258.7,370.87 L258.9,371.05 L259.1,370.73 L259.3,370.96 L259.5,370.84 L259.7,370.94 L259.9,370.97 L260.1,371.10 L260.3,371.15 L260.5,370.76 L260.7,370.96 L260.9,370.96 L261.1,370.96 L261.3,370.81 L261.5,371.10 L261.7,371.13 L261.9,370.80 L262.1,370.97 L262.3,370.87 L262.5,370.76 L262.7,370.70 L262.9,370.69 L263.1,371.07 L263.3,370.87 L263.5,370.61 L263.7,370.58 L263.9,370.89 L264.1,370.84 L264.3,370.77 L264.5,370.82 L264.7,370.68 L264.9,370.45 L265.1,370.59 L265.3,370.64 L265.5,370.85 L265.7,370.73 L265.9,370.47 L266.1,370.66 L266.3,370.83 L266.5,370.86 L266.7,370.75 L266.9,370.81 L267.1,371.15 L267.3,370.92 L267.5,371.11 L267.7,371.06 L267.9,371.23 L268.1,371.18 L268.3,371.21 L268.5,371.20 L268.7,371.40 L268.9,371.32 L269.1,371.15 L269.3,371.41 L269.5,371.36 L269.7,371.10 L269.9,371.33 L270.1,371.31 L270.3,371.36 L270.5,371.07 L270.7,371.45 L270.9,371.19 L271.1,371.08 L271.3,371.42 L271.5,371.31 L271.7,371.14 L271.9,371.23 L272.1,371.36 L272.3,371.53 L272.5,371.34 L272.7,371.38 L272.9,371.21 L273.1,371.43 L273.3,371.38 L273.5,371.26 L273.7,371.18 L273.9,371.42 L274.1,371.41 L274.3,371.32 L274.5,371.15 L274.7,371.52 L274.9,371.14 L275.1,371.27 L275.3,371.45 L275.5,371.30 L275.7,371.48 L275.9,371.61 L276.1,371.27 L276.3,371.47 L276.5,371.40 L276.7,371.42 L276.9,371.22 L277.1,371.30 L277.3,371.67 L277.5,371.39 L277.7,371.46 L277.9,371.47 L278.1,371.28 L278.3,371.50 L278.5,371.48 L278.7,371.27 L278.9,371.50 L279.1,371.48 L279.3,371.47 L279.5,371.32 L279.7,371.40 L279.9,371.37 L280.1,371.55 L280.3,371.73 L280.5,371.41 L280.7,371.48 L280.9,371.37 L281.1,371.38 L281.3,371.70 L281.5,371.65 L281.7,371.72 L281.9,371.35 L282.1,371.70 L282.3,371.70 L282.5,371.36 L282.7,371.44 L282.9,371.68 L283.1,371.36 L283.3,371.32 L283.5,371.41 L283.7,371.60 L283.9,371.26 L284.1,371.36 L284.3,371.24 L284.5,370.99 L284.7,371.03 L284.9,370.95 L285.1,371.25 L285.3,371.08 L285.5,370.90 L285.7,371.04 L285.9,370.40 L286.1,370.56 L286.3,370.31 L286.5,369.96 L286.7,369.58 L286.9,368.80 L287.1,368.39 L287.3,367.80 L287.5,367.21 L287.7,366.78 L287.9,366.10 L288.1,365.39 L288.3,365.14 L288.5,365.02 L288.7,365.42 L288.9,365.74 L289.1,366.26 L289.3,366.58 L289.5,367.29 L289.7,367.89 L289.9,368.49 L290.1,369.01 L290.3,369.62 L290.5,369.81 L290.7,370.45 L290.9,370.35 L291.1,370.74 L291.3,371.15 L291.5,371.15 L291.7,371.14 L291.9,371.29 L292.1,371.28 L292.3,371.47 L292.5,371.55 L292.7,371.34 L292.9,371.63 L293.1,371.47 L293.3,371.46 L293.5,371.59 L293.7,371.69 L293.9,371.47 L294.1,371.74 L294.3,371.54 L294.5,371.96 L294.7,371.78 L294.9,371.69 L295.1,371.98 L295.3,371.57 L295.5,371.97 L295.7,371.69 L295.9,371.89 L296.1,371.50 L296.3,371.67 L296.5,371.52 L296.7,371.65 L296.9,371.53 L297.1,371.50 L297.3,371.65 L297.5,371.64 L297.7,371.28 L297.9,371.56 L298.1,371.10 L298.3,371.35 L298.5,371.28 L298.7,371.12 L298.9,370.56 L299.1,370.21 L299.3,370.15 L299.5,369.64 L299.7,369.39 L299.9,368.57 L300.1,368.16 L300.3,367.91 L300.5,367.48 L300.7,366.76 L300.9,366.80 L301.1,366.25 L301.3,366.52 L301.5,366.70 L301.7,366.82 L301.9,367.35 L302.1,367.71 L302.3,368.43 L302.5,368.58 L302.7,369.37 L302.9,369.57 L303.1,370.31 L303.3,370.31 L303.5,370.50 L303.7,371.01 L303.9,371.35 L304.1,371.31 L304.3,371.29 L304.5,371.58 L304.7,371.49 L304.9,371.78 L305.1,371.64 L305.3,371.55 L305.5,371.74 L305.7,371.66 L305.9,371.97 L306.1,371.64 L306.3,372.03 L306.5,371.65 L306.7,371.63 L306.9,371.68 L307.1,371.91 L307.3,372.04 L307.5,372.02 L307.7,371.83 L307.9,371.97 L308.1,371.76 L308.3,372.19 L308.5,372.00 L308.7,371.81 L308.9,371.95 L309.1,371.98 L309.3,372.21 L309.5,372.19 L309.7,372.12 L309.9,371.81 L310.1,371.84 L310.3,372.15 L310.5,371.80 L310.7,372.25 L310.9,371.97 L311.1,371.78 L311.3,372.09 L311.5,371.79 L311.7,371.94 L311.9,372.24 L312.1,372.10 L312.3,372.04 L312.5,372.15 L312.7,371.90 L312.9,372.18 L313.1,371.88 L313.3,372.12 L313.5,372.24 L313.7,371.99 L313.9,372.22 L314.1,372.00 L314.3,371.88 L314.5,371.97 L314.7,372.04 L314.9,372.26 L315.1,372.02 L315.3,372.22 L315.5,371.95 L315.7,372.21 L315.9,371.98 L316.1,372.10 L316.3,372.09 L316.5,371.94 L316.7,372.19 L316.9,372.19 L317.1,371.80 L317.3,372.11 L317.5,371.85 L317.7,371.84 L317.9,372.04 L318.1,372.20 L318.3,372.23 L318.5,371.84 L318.7,372.22 L318.9,372.03 L319.1,372.01 L319.3,372.22 L319.5,372.04 L319.7,372.19 L319.9,372.01 L320.1,372.02 L320.3,372.09 L320.5,372.18 L320.7,372.07 L320.9,372.17 L321.1,372.21 L321.3,372.15 L321.5,371.83 L321.7,372.02 L321.9,371.82 L322.1,372.26 L322.3,371.79 L322.5,372.02 L322.7,371.86 L322.9,371.97 L323.1,371.91 L323.3,372.13 L323.5,371.87 L323.7,372.16 L323.9,372.10 L324.1,372.22 L324.3,372.03 L324.5,371.96 L324.7,372.07 L324.9,371.76 L325.1,372.16 L325.3,371.90 L325.5,372.07 L325.7,371.88 L325.9,371.77 L326.1,371.79 L326.3,372.10 L326.5,371.98 L326.7,371.78 L326.9,371.56 L327.1,371.99 L327.3,371.66 L327.5,371.57 L327.7,371.46 L327.9,371.63 L328.1,371.33 L328.3,371.43 L328.5,371.13 L328.7,371.52 L328.9,370.98 L329.1,371.19 L329.3,371.14 L329.5,371.25 L329.7,371.14 L329.9,370.88 L330.1,370.91 L330.3,371.19 L330.5,371.13 L330.7,371.27 L330.9,371.30 L331.1,371.35 L331.3,371.36 L331.5,371.11 L331.7,371.17 L331.9,371.35 L332.1,371.57 L332.3,371.62 L332.5,371.54 L332.7,371.52 L332.9,371.64 L333.1,371.74 L333.3,371.99 L333.5,371.80 L333.7,371.71 L333.9,371.76 L334.1,372.13 L334.3,371.83 L334.5,372.02 L334.7,372.13 L334.9,371.73 L335.1,371.89 L335.3,371.86 L335.5,372.17 L335.7,371.83 L335.9,371.78 L336.1,371.80 L336.3,371.89 L336.5,371.85 L336.7,371.87 L336.9,371.98 L337.1,372.06 L337.3,371.87 L337.5,371.89 L337.7,371.85 L337.9,372.14 L338.1,371.81 L338.3,372.03 L338.5,371.82 L338.7,372.24 L338.9,371.81 L339.1,371.91 L339.3,372.18 L339.5,371.88 L339.7,372.19 L339.9,372.21 L340.1,372.08 L340.3,372.19 L340.5,372.06 L340.7,371.86 L340.9,371.97 L341.1,371.96 L341.3,372.12 L341.5,371.92 L341.7,371.92 L341.9,371.97 L342.1,371.84 L342.3,371.90 L342.5,372.11 L342.7,372.27 L342.9,371.99 L343.1,371.90 L343.3,372.15 L343.5,372.02 L343.7,371.90 L343.9,371.92 L344.1,372.31 L344.3,372.07 L344.5,372.31 L344.7,372.26 L344.9,371.91 L345.1,372.11 L345.3,372.02 L345.5,372.09 L345.7,372.15 L345.9,372.21 L346.1,372.14 L346.3,371.90 L346.5,372.01 L346.7,372.17 L346.9,372.28 L347.1,372.19 L347.3,371.97 L347.5,372.10 L347.7,371.99 L347.9,371.92 L348.1,372.26 L348.3,371.98 L348.5,372.30 L348.7,371.91 L348.9,372.23 L349.1,372.19 L349.3,371.85 L349.5,372.14 L349.7,372.21 L349.9,371.88 L350.1,372.02 L350.3,371.88 L350.5,372.13 L350.7,372.08 L350.9,371.85 L351.1,372.07 L351.3,371.83 L351.5,372.23 L351.7,371.91 L351.9,372.25 L352.1,372.07 L352.3,372.33 L352.5,372.24 L352.7,371.86 L352.9,372.10 L353.1,371.93 L353.3,372.21 L353.5,372.15 L353.7,372.28 L353.9,372.06 L354.1,371.90 L354.3,372.08 L354.5,372.14 L354.7,371.87 L354.9,371.89 L355.1,372.00 L355.3,372.30 L355.5,372.02 L355.7,372.11 L355.9,371.86 L356.1,372.15 L356.3,372.00 L356.5,372.02 L356.7,372.15 L356.9,372.08 L357.1,372.00 L357.3,371.88 L357.5,372.09 L357.7,372.16 L357.9,371.85 L358.1,372.31 L358.3,371.92 L358.5,372.00 L358.7,372.06 L358.9,372.12 L359.1,371.96 L359.3,371.89 L359.5,371.98 L359.7,371.97 L359.9,372.32 L360.1,372.18 L360.3,372.27 L360.5,371.87 L360.7,371.90 L360.9,372.27 L361.1,372.05 L361.3,372.05 L361.5,372.32 L361.7,372.15 L361.9,371.97 L362.1,372.02 L362.3,372.20 L362.5,371.96 L362.7,372.20 L362.9,372.07 L363.1,372.14 L363.3,371.86 L363.5,372.02 L363.7,371.94 L363.9,372.01 L364.1,372.16 L364.3,371.87 L364.5,371.99 L364.7,372.00 L364.9,372.21 L365.1,372.27 L365.3,372.06 L365.5,371.94 L365.7,371.95 L365.9,372.18 L366.1,372.28 L366.3,372.09 L366.5,371.91 L366.7,372.27 L366.9,371.98 L367.1,372.27 L367.3,372.20 L367.5,372.33 L367.7,372.20 L367.9,372.16 L368.1,371.87 L368.3,371.87 L368.5,372.26 L368.7,372.20 L368.9,371.88 L369.1,372.26 L369.3,372.19 L369.5,372.14 L369.7,372.30 L369.9,372.23 L370.1,372.16 L370.3,372.16 L370.5,371.88 L370.7,372.22 L370.9,372.26 L371.1,371.90 L371.3,372.13 L371.5,371.94 L371.7,372.04 L371.9,371.97 L372.1,372.20 L372.3,372.28 L372.5,371.98 L372.7,372.13 L372.9,372.08 L373.1,372.03 L373.3,371.98 L373.5,372.22 L373.7,372.18 L373.9,371.90 L374.1,372.10 L374.3,372.22 L374.5,372.05 L374.7,372.23 L374.9,371.98 L375.1,372.34 L375.3,371.95 L375.5,372.08 L375.7,372.19 L375.9,371.90 L376.1,372.23 L376.3,372.24 L376.5,372.33 L376.7,372.09 L376.9,371.99 L377.1,372.03 L377.3,372.16 L377.5,371.96 L377.7,372.31 L377.9,372.21 L378.1,372.05 L378.3,371.88 L378.5,372.05 L378.7,372.02 L378.9,371.98 L379.1,372.17 L379.3,371.90 L379.5,372.00 L379.7,372.20 L379.9,372.17 L380.1,371.97 L380.3,372.20 L380.5,372.28 L380.7,371.94 L380.9,372.11 L381.1,372.11 L381.3,372.04 L381.5,371.92 L381.7,372.31 L381.9,372.20 L382.1,372.34 L382.3,372.17 L382.5,372.12 L382.7,371.95 L382.9,372.04 L383.1,372.09 L383.3,372.17 L383.5,372.09 L383.7,372.24 L383.9,371.95 L384.1,371.98 L384.3,371.96 L384.5,372.30 L384.7,372.04 L384.9,372.00 L385.1,372.13 L385.3,371.93 L385.5,371.93 L385.7,372.01 L385.9,371.97 L386.1,372.06 L386.3,371.94 L386.5,372.31 L386.7,372.03 L386.9,372.02 L387.1,372.07 L387.3,372.23 L387.5,372.33 L387.7,372.05 L387.9,371.93 L388.1,372.19 L388.3,372.20 L388.5,372.16 L388.7,372.18 L388.9,371.83 L389.1,371.61 L389.3,371.59 L389.5,371.67 L389.7,371.32 L389.9,371.40 L390.1,370.72 L390.3,370.61 L390.5,370.30 L390.7,369.40 L390.9,368.93 L391.1,367.98 L391.3,367.04 L391.5,365.59 L391.7,364.05 L391.9,362.19 L392.1,360.57 L392.3,357.89 L392.5,355.66 L392.7,352.71 L392.9,349.31 L393.1,345.96 L393.3,342.19 L393.5,338.06 L393.7,334.02 L393.9,329.36 L394.1,325.19 L394.3,320.40 L394.5,315.99 L394.7,311.85 L394.9,308.07 L395.1,303.97 L395.3,301.03 L395.5,297.96 L395.7,295.72 L395.9,294.23 L396.1,292.92 L396.3,292.53 L396.5,292.95 L396.7,294.06 L396.9,295.68 L397.1,297.92 L397.3,300.93 L397.5,303.93 L397.7,307.59 L397.9,311.73 L398.1,315.92 L398.3,320.66 L398.5,324.81 L398.7,329.73 L398.9,333.90 L399.1,338.29 L399.3,342.14 L399.5,345.80 L399.7,349.28 L399.9,352.61 L400.1,355.56 L400.3,358.22 L400.5,360.41 L400.7,362.47 L400.9,364.25 L401.1,365.46 L401.3,366.82 L401.5,367.92 L401.7,368.91 L401.9,369.38 L402.1,370.22 L402.3,370.65 L402.5,370.88 L402.7,371.11 L402.9,371.20 L403.1,371.50 L403.3,371.54 L403.5,371.66 L403.7,371.83 L403.9,371.89 L404.1,372.27 L404.3,372.23 L404.5,372.35 L404.7,371.94 L404.9,372.02 L405.1,372.08 L405.3,372.27 L405.5,372.22 L405.7,372.32 L405.9,372.09 L406.1,371.91 L406.3,372.26 L406.5,372.39 L406.7,372.32 L406.9,372.23 L407.1,371.96 L407.3,372.01 L407.5,372.19 L407.7,372.36 L407.9,372.36 L408.1,372.34 L408.3,372.03 L408.5,372.18 L408.7,371.92 L408.9,371.96 L409.1,372.02 L409.3,372.18 L409.5,372.00 L409.7,372.35 L409.9,372.36 L410.1,372.13 L410.3,372.16 L410.5,372.30 L410.7,372.28 L410.9,372.39 L411.1,371.94 L411.3,372.03 L411.5,371.90 L411.7,371.87 L411.9,372.13 L412.1,371.96 L412.3,372.10 L412.5,371.85 L412.7,371.79 L412.9,372.09 L413.1,372.08 L413.3,371.90 L413.5,371.61 L413.7,371.60 L413.9,371.64 L414.1,371.07 L414.3,370.90 L414.5,370.84 L414.7,370.80 L414.9,370.09 L415.1,369.95 L415.3,369.83 L415.5,369.33 L415.7,368.76 L415.9,368.18 L416.1,367.91 L416.3,367.34 L416.5,367.05 L416.7,366.50 L416.9,365.65 L417.1,365.38 L417.3,365.01 L417.5,364.28 L417.7,364.06 L417.9,363.60 L418.1,363.10 L418.3,362.72 L418.5,362.45 L418.7,362.23 L418.9,362.25 L419.1,362.40 L419.3,362.11 L419.5,362.55 L419.7,362.53 L419.9,362.82 L420.1,363.00 L420.3,363.35 L420.5,364.00 L420.7,364.26 L420.9,364.73 L421.1,365.35 L421.3,366.03 L421.5,366.18 L421.7,366.86 L421.9,367.64 L422.1,368.04 L422.3,368.14 L422.5,368.97 L422.7,369.30 L422.9,369.49 L423.1,369.82 L423.3,370.23 L423.5,370.46 L423.7,371.06 L423.9,371.26 L424.1,371.01 L424.3,371.26 L424.5,371.78 L424.7,371.90 L424.9,371.90 L425.1,371.64 L425.3,372.07 L425.5,371.90 L425.7,371.81 L425.9,371.99 L426.1,371.88 L426.3,372.24 L426.5,372.31 L426.7,372.39 L426.9,372.03 L427.1,372.37 L427.3,371.94 L427.5,372.08 L427.7,372.34 L427.9,372.03 L428.1,372.36 L428.3,372.18 L428.5,372.39 L428.7,372.05 L428.9,372.00 L429.1,371.99 L429.3,372.44 L429.5,372.02 L429.7,372.17 L429.9,372.04 L430.1,372.20 L430.3,372.14 L430.5,372.15 L430.7,372.05 L430.9,372.41 L431.1,372.42 L431.3,372.18 L431.5,372.30 L431.7,372.25 L431.9,372.45 L432.1,372.08 L432.3,372.44 L432.5,372.04 L432.7,372.04 L432.8,373.3 Z" fill="#ffff00"/>
<line x1="172.4" y1="373.8" x2="432.8" y2="373.8" stroke="#222" stroke-width="1"/>
<line x1="172.0" y1="275.6" x2="172.0" y2="374.3" stroke="#7a7a6a" stroke-width="0.8"/>
<line x1="168.4" y1="285.6" x2="172.4" y2="285.6" stroke="#333" stroke-width="0.8"/>
<text x="167.9" y="288.1" text-anchor="end" font-size="7.2" fill="#222" font-family="Liberation Sans, sans-serif">800</text>
<line x1="168.4" y1="307.4" x2="172.4" y2="307.4" stroke="#333" stroke-width="0.8"/>
<text x="167.9" y="309.9" text-anchor="end" font-size="7.2" fill="#222" font-family="Liberation Sans, sans-serif">600</text>
<line x1="168.4" y1="329.2" x2="172.4" y2="329.2" stroke="#333" stroke-width="0.8"/>
<text x="167.9" y="331.7" text-anchor="end" font-size="7.2" fill="#222" font-family="Liberation Sans, sans-serif">400</text>
<line x1="168.4" y1="351" x2="172.4" y2="351" stroke="#333" stroke-width="0.8"/>
<text x="167.9" y="353.5" text-anchor="end" font-size="7.2" fill="#222" font-family="Liberation Sans, sans-serif">200</text>
<line x1="172.3" y1="373.3" x2="172.3" y2="376.8" stroke="#333" stroke-width="0.8"/>
<text x="172.3" y="385.7" text-anchor="middle" font-size="8.6" fill="#222" font-family="Liberation Sans, sans-serif">0</text>
<line x1="207.26000000000002" y1="373.3" x2="207.26000000000002" y2="376.8" stroke="#333" stroke-width="0.8"/>
<text x="207.26000000000002" y="385.7" text-anchor="middle" font-size="8.6" fill="#222" font-family="Liberation Sans, sans-serif">1</text>
<line x1="242.22000000000003" y1="373.3" x2="242.22000000000003" y2="376.8" stroke="#333" stroke-width="0.8"/>
<text x="242.22000000000003" y="385.7" text-anchor="middle" font-size="8.6" fill="#222" font-family="Liberation Sans, sans-serif">2</text>
<line x1="277.18" y1="373.3" x2="277.18" y2="376.8" stroke="#333" stroke-width="0.8"/>
<text x="277.18" y="385.7" text-anchor="middle" font-size="8.6" fill="#222" font-family="Liberation Sans, sans-serif">3</text>
<line x1="312.14" y1="373.3" x2="312.14" y2="376.8" stroke="#333" stroke-width="0.8"/>
<text x="312.14" y="385.7" text-anchor="middle" font-size="8.6" fill="#222" font-family="Liberation Sans, sans-serif">4</text>
<line x1="347.1" y1="373.3" x2="347.1" y2="376.8" stroke="#333" stroke-width="0.8"/>
<text x="347.1" y="385.7" text-anchor="middle" font-size="8.6" fill="#222" font-family="Liberation Sans, sans-serif">5</text>
<line x1="382.06" y1="373.3" x2="382.06" y2="376.8" stroke="#333" stroke-width="0.8"/>
<text x="382.06" y="385.7" text-anchor="middle" font-size="8.6" fill="#222" font-family="Liberation Sans, sans-serif">6</text>
<line x1="417.02" y1="373.3" x2="417.02" y2="376.8" stroke="#333" stroke-width="0.8"/>
<text x="417.02" y="385.7" text-anchor="middle" font-size="8.6" fill="#222" font-family="Liberation Sans, sans-serif">7</text>
<text x="287.6" y="395.9" font-size="9" fill="#222" font-family="Liberation Sans, sans-serif">keV</text>
<text x="182.4" y="288" text-anchor="middle" font-size="7" font-weight="bold" fill="#fff" font-family="Liberation Sans, sans-serif">C</text>
<text x="191.6" y="288" text-anchor="middle" font-size="7" font-weight="bold" fill="#fff" font-family="Liberation Sans, sans-serif">O</text>
<text x="199" y="288" text-anchor="middle" font-size="7" font-weight="bold" fill="#fff" font-family="Liberation Sans, sans-serif">Fe</text>
<text x="233.6" y="305" text-anchor="middle" font-size="7" font-weight="bold" fill="#fff" font-family="Liberation Sans, sans-serif">Si</text>
<text x="187" y="338.5" text-anchor="middle" font-size="7" font-weight="bold" fill="#fff" font-family="Liberation Sans, sans-serif">N</text>
<text x="205.3" y="357.4" text-anchor="middle" font-size="7" font-weight="bold" fill="#fff" font-family="Liberation Sans, sans-serif">Na</text>
<text x="216.9" y="362" text-anchor="middle" font-size="7" font-weight="bold" fill="#fff" font-family="Liberation Sans, sans-serif">Mg</text>
<text x="226.3" y="358.6" text-anchor="middle" font-size="7" font-weight="bold" fill="#fff" font-family="Liberation Sans, sans-serif">Al</text>
<text x="244" y="359" text-anchor="middle" font-size="7" font-weight="bold" fill="#fff" font-family="Liberation Sans, sans-serif">P</text>
<text x="254.8" y="367.7" text-anchor="middle" font-size="7" font-weight="bold" fill="#fff" font-family="Liberation Sans, sans-serif">S</text>
<text x="288.5" y="362.1" text-anchor="middle" font-size="7" font-weight="bold" fill="#fff" font-family="Liberation Sans, sans-serif">K</text>
<text x="302.5" y="362.7" text-anchor="middle" font-size="7" font-weight="bold" fill="#fff" font-family="Liberation Sans, sans-serif">Ca</text>
<text x="313.2" y="368.9" text-anchor="middle" font-size="7" font-weight="bold" fill="#fff" font-family="Liberation Sans, sans-serif">Ca</text>
<text x="330.1" y="368.9" text-anchor="middle" font-size="7" font-weight="bold" fill="#fff" font-family="Liberation Sans, sans-serif">Ti</text>
<text x="345.2" y="368.9" text-anchor="middle" font-size="7" font-weight="bold" fill="#fff" font-family="Liberation Sans, sans-serif">Ti</text>
<text x="396.4" y="289" text-anchor="middle" font-size="7" font-weight="bold" fill="#fff" font-family="Liberation Sans, sans-serif">Fe</text>
<text x="420" y="359" text-anchor="middle" font-size="7" font-weight="bold" fill="#fff" font-family="Liberation Sans, sans-serif">Fe</text>
<text x="415.1" y="295.8" font-size="18" font-weight="bold" fill="#ffff00" font-family="Liberation Sans, sans-serif">H</text>
<rect x="472.5" y="8.5" width="201.0" height="100.0" fill="none" stroke="#6a6a6a" stroke-width="1"/>
<line x1="469.4" y1="108.3" x2="472" y2="108.3" stroke="#444" stroke-width="0.9"/>
<text x="468.2" y="110.89999999999999" text-anchor="end" font-size="7.5" fill="#222" font-family="Liberation Sans, sans-serif">0</text>
<line x1="469.4" y1="92.67999999999999" x2="472" y2="92.67999999999999" stroke="#444" stroke-width="0.9"/>
<text x="468.2" y="95.27999999999999" text-anchor="end" font-size="7.5" fill="#222" font-family="Liberation Sans, sans-serif">40</text>
<line x1="469.4" y1="77.06" x2="472" y2="77.06" stroke="#444" stroke-width="0.9"/>
<text x="468.2" y="79.66" text-anchor="end" font-size="7.5" fill="#222" font-family="Liberation Sans, sans-serif">80</text>
<line x1="469.4" y1="61.44" x2="472" y2="61.44" stroke="#444" stroke-width="0.9"/>
<text x="468.2" y="64.03999999999999" text-anchor="end" font-size="7.5" fill="#222" font-family="Liberation Sans, sans-serif">120</text>
<line x1="469.4" y1="45.82" x2="472" y2="45.82" stroke="#444" stroke-width="0.9"/>
<text x="468.2" y="48.42" text-anchor="end" font-size="7.5" fill="#222" font-family="Liberation Sans, sans-serif">160</text>
<line x1="469.4" y1="30.200000000000003" x2="472" y2="30.200000000000003" stroke="#444" stroke-width="0.9"/>
<text x="468.2" y="32.800000000000004" text-anchor="end" font-size="7.5" fill="#222" font-family="Liberation Sans, sans-serif">200</text>
<line x1="469.4" y1="14.579999999999998" x2="472" y2="14.579999999999998" stroke="#444" stroke-width="0.9"/>
<text x="468.2" y="17.18" text-anchor="end" font-size="7.5" fill="#222" font-family="Liberation Sans, sans-serif">240</text>
<line x1="485.6" y1="108.3" x2="485.6" y2="111.5" stroke="#444" stroke-width="0.9"/>
<text x="485.6" y="120.5" text-anchor="middle" font-size="7.8" fill="#222" font-family="Liberation Sans, sans-serif">275</text>
<line x1="508.6" y1="108.3" x2="508.6" y2="111.5" stroke="#444" stroke-width="0.9"/>
<text x="508.6" y="120.5" text-anchor="middle" font-size="7.8" fill="#222" font-family="Liberation Sans, sans-serif">280</text>
<line x1="531.6" y1="108.3" x2="531.6" y2="111.5" stroke="#444" stroke-width="0.9"/>
<text x="531.6" y="120.5" text-anchor="middle" font-size="7.8" fill="#222" font-family="Liberation Sans, sans-serif">285</text>
<line x1="554.6" y1="108.3" x2="554.6" y2="111.5" stroke="#444" stroke-width="0.9"/>
<text x="554.6" y="120.5" text-anchor="middle" font-size="7.8" fill="#222" font-family="Liberation Sans, sans-serif">290</text>
<line x1="577.6" y1="108.3" x2="577.6" y2="111.5" stroke="#444" stroke-width="0.9"/>
<text x="577.6" y="120.5" text-anchor="middle" font-size="7.8" fill="#222" font-family="Liberation Sans, sans-serif">295</text>
<line x1="600.6" y1="108.3" x2="600.6" y2="111.5" stroke="#444" stroke-width="0.9"/>
<text x="600.6" y="120.5" text-anchor="middle" font-size="7.8" fill="#222" font-family="Liberation Sans, sans-serif">300</text>
<line x1="623.6" y1="108.3" x2="623.6" y2="111.5" stroke="#444" stroke-width="0.9"/>
<text x="623.6" y="120.5" text-anchor="middle" font-size="7.8" fill="#222" font-family="Liberation Sans, sans-serif">305</text>
<line x1="646.6" y1="108.3" x2="646.6" y2="111.5" stroke="#444" stroke-width="0.9"/>
<text x="646.6" y="120.5" text-anchor="middle" font-size="7.8" fill="#222" font-family="Liberation Sans, sans-serif">310</text>
<line x1="669.6" y1="108.3" x2="669.6" y2="111.5" stroke="#444" stroke-width="0.9"/>
<text x="669.6" y="120.5" text-anchor="middle" font-size="7.8" fill="#222" font-family="Liberation Sans, sans-serif">315</text>
<text x="567.4" y="131.6" font-size="9" fill="#222" font-family="Liberation Sans, sans-serif">eV</text>
<text transform="translate(451.8,80.3) rotate(-90)" font-size="8.2" fill="#222" font-family="Liberation Sans, sans-serif">Counts × 10<tspan font-size="5.58" dy="-3.20">3</tspan></text>
<text x="481" y="26" font-size="15" fill="#111" font-family="Liberation Sans, sans-serif" word-spacing="-3.4">EELS 1</text>
<text x="655.7" y="27.3" font-size="18" font-weight="bold" fill="#ff0000" font-family="Liberation Sans, sans-serif">C</text>
<path d="M472.3,108.1 L472.9,107.2 L473.5,107.0 L474.1,106.3 L474.7,106.4 L475.3,106.8 L475.9,107.9 L476.5,107.7 L477.1,107.7 L477.7,107.6 L478.3,108.0 L478.9,108.1 L479.5,108.1 L480.1,107.6 L480.7,107.7 L481.3,107.7 L481.9,108.0 L482.5,107.5 L483.1,107.8 L483.7,108.1 L484.3,107.9 L484.9,107.3 L485.5,107.4 L486.1,107.4 L486.7,107.8 L487.3,107.7 L487.9,107.6 L488.5,107.6 L489.1,107.5 L489.7,107.7 L490.3,107.7 L490.9,107.9 L491.5,107.7 L492.1,107.8 L492.7,107.8 L493.3,107.8 L493.9,107.7 L494.5,107.2 L495.1,107.7 L495.7,107.8 L496.3,107.5 L496.9,107.8 L497.5,107.3 L498.1,107.8 L498.7,107.4 L499.3,107.6 L499.9,107.3 L500.5,107.3 L501.1,107.3 L501.7,107.3 L502.3,107.1 L502.9,107.3 L503.5,107.7 L504.1,107.4 L504.7,107.5 L505.3,107.4 L505.9,107.4 L506.5,107.4 L507.1,107.2 L507.7,106.8 L508.3,106.7 L508.9,106.8 L509.5,106.5 L510.1,106.6 L510.7,107.1 L511.3,107.1 L511.9,106.7 L512.5,107.1 L513.1,107.1 L513.7,107.2 L514.3,107.2 L514.9,107.1 L515.5,106.9 L516.1,107.5 L516.7,107.2 L517.3,107.5 L517.9,107.3 L518.5,107.5 L519.1,107.9 L519.7,107.3 L520.3,107.6 L520.9,107.7 L521.5,107.7 L522.1,107.9 L522.7,107.6 L523.3,107.9 L523.9,107.7 L524.5,107.9 L525.1,107.2 L525.7,107.2 L526.3,107.0 L526.9,107.0 L527.5,105.1 L528.1,104.8 L528.7,104.5 L529.3,103.2 L529.9,100.0 L530.5,97.8 L531.1,95.9 L531.7,93.8 L532.3,92.0 L532.9,90.1 L533.5,87.6 L534.1,85.7 L534.7,83.7 L535.3,83.1 L535.9,81.6 L536.5,80.9 L537.1,81.0 L537.7,80.0 L538.3,79.4 L538.9,79.0 L539.5,78.6 L540.1,79.0 L540.7,79.3 L541.3,79.0 L541.9,78.5 L542.5,78.0 L543.1,78.2 L543.7,78.0 L544.3,78.3 L544.9,79.1 L545.5,80.1 L546.1,80.5 L546.7,80.6 L547.3,81.6 L547.9,81.3 L548.5,81.5 L549.1,81.9 L549.7,82.2 L550.3,82.6 L550.9,82.4 L551.5,82.7 L552.1,81.6 L552.7,81.9 L553.3,81.0 L553.9,81.5 L554.5,80.6 L555.1,81.4 L555.7,80.6 L556.3,81.1 L556.9,80.8 L557.5,80.4 L558.1,79.6 L558.7,78.9 L559.3,78.6 L559.9,78.7 L560.5,77.0 L561.1,76.6 L561.7,75.4 L562.3,74.2 L562.9,72.5 L563.5,71.4 L564.1,70.3 L564.7,70.3 L565.3,68.6 L565.9,67.9 L566.5,66.9 L567.1,65.7 L567.7,64.9 L568.3,64.1 L568.9,64.5 L569.5,63.2 L570.1,63.5 L570.7,62.2 L571.3,62.0 L571.9,60.9 L572.5,61.2 L573.1,60.4 L573.7,60.2 L574.3,60.2 L574.9,59.5 L575.5,59.4 L576.1,59.9 L576.7,59.1 L577.3,59.1 L577.9,59.3 L578.5,58.6 L579.1,58.4 L579.7,58.3 L580.3,58.4 L580.9,58.3 L581.5,58.5 L582.1,58.2 L582.7,58.5 L583.3,57.4 L583.9,57.8 L584.5,57.8 L585.1,56.8 L585.7,56.3 L586.3,56.5 L586.9,55.8 L587.5,55.8 L588.1,55.5 L588.7,54.2 L589.3,53.4 L589.9,52.9 L590.5,51.7 L591.1,50.9 L591.7,50.1 L592.3,48.5 L592.9,46.8 L593.5,45.7 L594.1,45.4 L594.7,46.3 L595.3,46.8 L595.9,47.1 L596.5,47.9 L597.1,49.0 L597.7,49.4 L598.3,50.4 L598.9,51.3 L599.5,51.9 L600.1,51.5 L600.7,52.4 L601.3,51.7 L601.9,50.9 L602.5,50.1 L603.1,49.8 L603.7,48.1 L604.3,47.4 L604.9,47.1 L605.5,47.5 L606.1,46.7 L606.7,47.0 L607.3,46.7 L607.9,47.9 L608.5,48.6 L609.1,49.5 L609.7,51.0 L610.3,51.6 L610.9,52.1 L611.5,53.6 L612.1,53.4 L612.7,53.4 L613.3,53.5 L613.9,54.6 L614.5,55.0 L615.1,55.1 L615.7,56.1 L616.3,56.7 L616.9,56.6 L617.5,56.3 L618.1,56.6 L618.7,56.8 L619.3,57.0 L619.9,56.6 L620.5,57.5 L621.1,58.0 L621.7,58.1 L622.3,58.6 L622.9,58.5 L623.5,59.4 L624.1,59.0 L624.7,59.4 L625.3,60.2 L625.9,60.8 L626.5,60.3 L627.1,60.7 L627.7,60.8 L628.3,61.6 L628.9,61.5 L629.5,61.7 L630.1,62.5 L630.7,62.5 L631.3,63.1 L631.9,62.8 L632.5,63.5 L633.1,63.2 L633.7,64.7 L634.3,64.4 L634.9,65.1 L635.5,65.6 L636.1,66.4 L636.7,66.2 L637.3,67.0 L637.9,66.8 L638.5,66.6 L639.1,67.5 L639.7,67.0 L640.3,68.1 L640.9,67.7 L641.5,67.7 L642.1,68.7 L642.7,68.2 L643.3,68.5 L643.9,68.7 L644.5,69.3 L645.1,68.8 L645.7,69.4 L646.3,69.4 L646.9,70.4 L647.5,69.7 L648.1,70.5 L648.7,70.3 L649.3,70.7 L649.9,71.0 L650.5,71.3 L651.1,70.8 L651.7,71.0 L652.3,71.1 L652.9,72.1 L653.5,71.4 L654.1,71.5 L654.7,72.1 L655.3,72.3 L655.9,72.7 L656.5,71.9 L657.1,72.1 L657.7,72.1 L658.3,72.6 L658.9,72.5 L659.5,72.4 L660.1,73.0 L660.7,72.9 L661.3,73.2 L661.9,73.5 L662.5,72.8 L663.1,73.7 L663.7,73.2 L664.3,72.8 L664.9,73.7 L665.5,72.7 L666.1,72.6 L666.7,72.8 L667.3,72.7 L667.9,73.4 L668.5,73.3 L669.1,72.8 L669.7,73.0 L670.3,73.4 L670.9,73.4 L671.5,73.3 L672.1,73.2 L672.7,72.8 L673.3,73.0" fill="none" stroke="#0c16ee" stroke-width="1.35" stroke-linejoin="round"/>
<rect x="471.5" y="140.5" width="204.0" height="103.0" fill="none" stroke="#6a6a6a" stroke-width="1"/>
<line x1="469.0" y1="240.6" x2="471.6" y2="240.6" stroke="#444" stroke-width="0.9"/>
<text x="467.8" y="243.2" text-anchor="end" font-size="7.5" fill="#222" font-family="Liberation Sans, sans-serif">0</text>
<line x1="469.0" y1="215.6" x2="471.6" y2="215.6" stroke="#444" stroke-width="0.9"/>
<text x="467.8" y="218.2" text-anchor="end" font-size="7.5" fill="#222" font-family="Liberation Sans, sans-serif">50</text>
<line x1="469.0" y1="190.6" x2="471.6" y2="190.6" stroke="#444" stroke-width="0.9"/>
<text x="467.8" y="193.2" text-anchor="end" font-size="7.5" fill="#222" font-family="Liberation Sans, sans-serif">100</text>
<line x1="469.0" y1="165.6" x2="471.6" y2="165.6" stroke="#444" stroke-width="0.9"/>
<text x="467.8" y="168.2" text-anchor="end" font-size="7.5" fill="#222" font-family="Liberation Sans, sans-serif">150</text>
<line x1="469.0" y1="140.6" x2="471.6" y2="140.6" stroke="#444" stroke-width="0.9"/>
<text x="467.8" y="143.2" text-anchor="end" font-size="7.5" fill="#222" font-family="Liberation Sans, sans-serif">200</text>
<line x1="471.6" y1="243" x2="471.6" y2="246.2" stroke="#444" stroke-width="0.9"/>
<text x="471.6" y="255.2" text-anchor="middle" font-size="7.8" fill="#222" font-family="Liberation Sans, sans-serif">370</text>
<line x1="491.5" y1="243" x2="491.5" y2="246.2" stroke="#444" stroke-width="0.9"/>
<text x="491.5" y="255.2" text-anchor="middle" font-size="7.8" fill="#222" font-family="Liberation Sans, sans-serif">380</text>
<line x1="511.40000000000003" y1="243" x2="511.40000000000003" y2="246.2" stroke="#444" stroke-width="0.9"/>
<text x="511.40000000000003" y="255.2" text-anchor="middle" font-size="7.8" fill="#222" font-family="Liberation Sans, sans-serif">390</text>
<line x1="531.3000000000001" y1="243" x2="531.3000000000001" y2="246.2" stroke="#444" stroke-width="0.9"/>
<text x="531.3000000000001" y="255.2" text-anchor="middle" font-size="7.8" fill="#222" font-family="Liberation Sans, sans-serif">400</text>
<line x1="551.2" y1="243" x2="551.2" y2="246.2" stroke="#444" stroke-width="0.9"/>
<text x="551.2" y="255.2" text-anchor="middle" font-size="7.8" fill="#222" font-family="Liberation Sans, sans-serif">410</text>
<line x1="571.1" y1="243" x2="571.1" y2="246.2" stroke="#444" stroke-width="0.9"/>
<text x="571.1" y="255.2" text-anchor="middle" font-size="7.8" fill="#222" font-family="Liberation Sans, sans-serif">420</text>
<line x1="591.0" y1="243" x2="591.0" y2="246.2" stroke="#444" stroke-width="0.9"/>
<text x="591.0" y="255.2" text-anchor="middle" font-size="7.8" fill="#222" font-family="Liberation Sans, sans-serif">430</text>
<line x1="610.9000000000001" y1="243" x2="610.9000000000001" y2="246.2" stroke="#444" stroke-width="0.9"/>
<text x="610.9000000000001" y="255.2" text-anchor="middle" font-size="7.8" fill="#222" font-family="Liberation Sans, sans-serif">440</text>
<line x1="630.8" y1="243" x2="630.8" y2="246.2" stroke="#444" stroke-width="0.9"/>
<text x="630.8" y="255.2" text-anchor="middle" font-size="7.8" fill="#222" font-family="Liberation Sans, sans-serif">450</text>
<line x1="650.7" y1="243" x2="650.7" y2="246.2" stroke="#444" stroke-width="0.9"/>
<text x="650.7" y="255.2" text-anchor="middle" font-size="7.8" fill="#222" font-family="Liberation Sans, sans-serif">460</text>
<line x1="670.6" y1="243" x2="670.6" y2="246.2" stroke="#444" stroke-width="0.9"/>
<text x="670.6" y="255.2" text-anchor="middle" font-size="7.8" fill="#222" font-family="Liberation Sans, sans-serif">470</text>
<text x="567.4" y="266" font-size="9" fill="#222" font-family="Liberation Sans, sans-serif">eV</text>
<text transform="translate(451.6,216) rotate(-90)" font-size="8.85" fill="#222" font-family="Liberation Sans, sans-serif">Counts × 10<tspan font-size="6.02" dy="-3.45">3</tspan></text>
<text x="477.1" y="159.2" font-size="15" fill="#111" font-family="Liberation Sans, sans-serif" word-spacing="0">N EELS</text>
<text x="657.5" y="161.1" font-size="18" font-weight="bold" fill="#ff0000" font-family="Liberation Sans, sans-serif">F</text>
<path d="M472.0,240.6 L472.5,240.6 L473.0,240.7 L473.5,240.7 L474.0,240.7 L474.5,240.5 L475.0,240.5 L475.5,240.7 L476.0,240.6 L476.5,240.5 L477.0,240.7 L477.5,240.5 L478.0,240.5 L478.5,240.6 L479.0,240.6 L479.5,240.7 L480.0,240.5 L480.5,240.7 L481.0,240.6 L481.5,240.6 L482.0,240.7 L482.5,240.7 L483.0,240.5 L483.5,240.6 L484.0,240.7 L484.5,240.7 L485.0,240.7 L485.5,240.5 L486.0,240.8 L486.5,240.7 L487.0,240.5 L487.5,240.6 L488.0,240.8 L488.5,240.5 L489.0,240.6 L489.5,240.8 L490.0,240.7 L490.5,240.5 L491.0,240.7 L491.5,240.6 L492.0,240.7 L492.5,240.7 L493.0,240.5 L493.5,240.5 L494.0,240.5 L494.5,240.5 L495.0,238.2 L495.5,238.7 L496.0,240.0 L496.5,240.1 L497.0,238.3 L497.5,240.9 L498.0,242.8 L498.5,240.9 L499.0,239.8 L499.5,241.6 L500.0,240.2 L500.5,238.8 L501.0,240.4 L501.5,238.0 L502.0,241.5 L502.5,238.8 L503.0,239.9 L503.5,243.0 L504.0,241.9 L504.5,242.3 L505.0,241.3 L505.5,241.3 L506.0,241.6 L506.5,243.0 L507.0,239.0 L507.5,242.0 L508.0,239.6 L508.5,239.3 L509.0,242.3 L509.5,241.1 L510.0,242.4 L510.5,242.6 L511.0,241.1 L511.5,239.1 L512.0,238.1 L512.5,240.8 L513.0,241.8 L513.5,239.5 L514.0,238.4 L514.5,238.1 L515.0,238.9 L515.5,241.7 L516.0,238.1 L516.5,239.2 L517.0,239.4 L517.5,241.8 L518.0,243.2 L518.5,238.2 L519.0,238.7 L519.5,242.9 L520.0,243.1 L520.5,238.8 L521.0,239.8 L521.5,240.8 L522.0,239.7 L522.5,240.2 L523.0,240.5 L523.5,239.4 L524.0,238.3 L524.5,238.5 L525.0,238.9 L525.5,238.5 L526.0,241.3 L526.5,241.6 L527.0,239.7 L527.5,241.8 L528.0,241.5 L528.5,239.9 L529.0,240.5 L529.5,239.3 L530.0,236.9 L530.5,233.8 L531.0,230.2 L531.5,228.9 L532.0,229.2 L532.5,226.1 L533.0,225.9 L533.5,223.1 L534.0,225.8 L534.5,227.3 L535.0,225.9 L535.5,228.7 L536.0,228.0 L536.5,230.7 L537.0,231.6 L537.5,231.9 L538.0,229.9 L538.5,229.5 L539.0,231.9 L539.5,231.7 L540.0,230.1 L540.5,230.4 L541.0,232.1 L541.5,230.2 L542.0,232.0 L542.5,230.0 L543.0,229.6 L543.5,229.7 L544.0,229.5 L544.5,229.6 L545.0,226.1 L545.5,228.1 L546.0,225.2 L546.5,224.5 L547.0,225.1 L547.5,224.7 L548.0,223.9 L548.5,224.6 L549.0,221.4 L549.5,221.5 L550.0,222.7 L550.5,220.8 L551.0,220.1 L551.5,220.2 L552.0,222.2 L552.5,222.4 L553.0,221.9 L553.5,222.9 L554.0,222.4 L554.5,220.8 L555.0,221.2 L555.5,223.1 L556.0,220.7 L556.5,223.1 L557.0,221.3 L557.5,221.3 L558.0,223.3 L558.5,222.1 L559.0,225.3 L559.5,225.3 L560.0,223.7 L560.5,222.8 L561.0,222.6 L561.5,224.3 L562.0,224.4 L562.5,223.9 L563.0,225.4 L563.5,224.7 L564.0,225.8 L564.5,223.2 L565.0,223.2 L565.5,224.6 L566.0,225.0 L566.5,224.2 L567.0,226.0 L567.5,224.3 L568.0,224.8 L568.5,225.6 L569.0,226.6 L569.5,227.0 L570.0,225.5 L570.5,225.9 L571.0,227.9 L571.5,228.0 L572.0,226.8 L572.5,224.9 L573.0,226.4 L573.5,227.2 L574.0,225.9 L574.5,225.0 L575.0,228.9 L575.5,228.8 L576.0,225.9 L576.5,227.4 L577.0,228.2 L577.5,227.1 L578.0,226.4 L578.5,229.4 L579.0,229.7 L579.5,228.5 L580.0,227.3 L580.5,228.8 L581.0,227.8 L581.5,231.5 L582.0,228.0 L582.5,229.2 L583.0,231.3 L583.5,229.0 L584.0,229.0 L584.5,229.1 L585.0,229.7 L585.5,231.3 L586.0,232.7 L586.5,230.3 L587.0,230.5 L587.5,233.0 L588.0,231.7 L588.5,231.4 L589.0,230.5 L589.5,231.0 L590.0,233.8 L590.5,230.4 L591.0,230.9 L591.5,232.7 L592.0,233.2 L592.5,233.0 L593.0,231.0 L593.5,232.6 L594.0,230.8 L594.5,229.3 L595.0,229.9 L595.5,230.8 L596.0,230.8 L596.5,228.4 L597.0,228.7 L597.5,231.8 L598.0,228.4 L598.5,231.2 L599.0,229.4 L599.5,229.0 L600.0,229.0 L600.5,229.8 L601.0,231.9 L601.5,228.4 L602.0,231.2 L602.5,229.0 L603.0,228.3 L603.5,230.5 L604.0,228.9 L604.5,228.3 L605.0,229.2 L605.5,230.8 L606.0,231.1 L606.5,230.0 L607.0,227.8 L607.5,231.0 L608.0,230.5 L608.5,231.7 L609.0,232.0 L609.5,229.6 L610.0,231.7 L610.5,231.6 L611.0,229.3 L611.5,229.6 L612.0,229.6 L612.5,229.4 L613.0,229.4 L613.5,228.2 L614.0,228.5 L614.5,231.2 L615.0,229.1 L615.5,230.0 L616.0,231.0 L616.5,230.4 L617.0,228.4 L617.5,231.0 L618.0,230.6 L618.5,231.3 L619.0,230.3 L619.5,230.4 L620.0,230.7 L620.5,228.4 L621.0,230.1 L621.5,229.1 L622.0,231.0 L622.5,228.2 L623.0,229.9 L623.5,229.2 L624.0,231.2 L624.5,229.3 L625.0,231.4 L625.5,231.4 L626.0,231.5 L626.5,228.6 L627.0,231.8 L627.5,231.0 L628.0,230.7 L628.5,230.6 L629.0,228.2 L629.5,231.5 L630.0,230.2 L630.5,229.9 L631.0,229.4 L631.5,231.3 L632.0,231.3 L632.5,231.8 L633.0,229.2 L633.5,229.8 L634.0,229.5 L634.5,228.9 L635.0,229.8 L635.5,228.6 L636.0,231.7 L636.5,229.4 L637.0,228.7 L637.5,228.6 L638.0,231.3 L638.5,229.0 L639.0,230.0 L639.5,229.7 L640.0,231.2 L640.5,231.7 L641.0,229.0 L641.5,230.2 L642.0,231.1 L642.5,229.2 L643.0,230.7 L643.5,229.9 L644.0,228.1 L644.5,230.2 L645.0,228.8 L645.5,226.8 L646.0,228.6 L646.5,229.4 L647.0,228.0 L647.5,227.7 L648.0,227.3 L648.5,229.0 L649.0,228.0 L649.5,226.0 L650.0,226.4 L650.5,226.3 L651.0,228.5 L651.5,227.2 L652.0,224.7 L652.5,227.6 L653.0,223.9 L653.5,225.9 L654.0,225.1 L654.5,226.1 L655.0,224.9 L655.5,223.6 L656.0,225.5 L656.5,227.0 L657.0,227.2 L657.5,225.9 L658.0,225.7 L658.5,228.1 L659.0,228.6 L659.5,226.4 L660.0,229.1 L660.5,229.5 L661.0,227.1 L661.5,226.7 L662.0,227.8 L662.5,228.4 L663.0,225.3 L663.5,225.5 L664.0,225.3 L664.5,226.7 L665.0,224.2 L665.5,225.4 L666.0,225.0 L666.5,225.4 L667.0,223.2 L667.5,226.4 L668.0,226.5 L668.5,224.8 L669.0,225.8 L669.5,223.5 L670.0,226.6 L670.5,225.5 L671.0,226.8 L671.5,227.8 L672.0,226.2 L672.5,228.9 L673.0,226.4 L673.5,226.0 L674.0,228.3 L674.5,230.2 L675.0,230.6" fill="none" stroke="#0c16ee" stroke-width="1.35" stroke-linejoin="round"/>
<rect x="470.5" y="274.5" width="206.0" height="103.0" fill="none" stroke="#6a6a6a" stroke-width="1"/>
<line x1="467.79999999999995" y1="376.8" x2="470.4" y2="376.8" stroke="#444" stroke-width="0.9"/>
<text x="466.59999999999997" y="379.40000000000003" text-anchor="end" font-size="7.5" fill="#222" font-family="Liberation Sans, sans-serif">0</text>
<line x1="467.79999999999995" y1="353.3" x2="470.4" y2="353.3" stroke="#444" stroke-width="0.9"/>
<text x="466.59999999999997" y="355.90000000000003" text-anchor="end" font-size="7.5" fill="#222" font-family="Liberation Sans, sans-serif">40</text>
<line x1="467.79999999999995" y1="329.8" x2="470.4" y2="329.8" stroke="#444" stroke-width="0.9"/>
<text x="466.59999999999997" y="332.40000000000003" text-anchor="end" font-size="7.5" fill="#222" font-family="Liberation Sans, sans-serif">80</text>
<line x1="467.79999999999995" y1="306.3" x2="470.4" y2="306.3" stroke="#444" stroke-width="0.9"/>
<text x="466.59999999999997" y="308.90000000000003" text-anchor="end" font-size="7.5" fill="#222" font-family="Liberation Sans, sans-serif">120</text>
<line x1="467.79999999999995" y1="282.8" x2="470.4" y2="282.8" stroke="#444" stroke-width="0.9"/>
<text x="466.59999999999997" y="285.40000000000003" text-anchor="end" font-size="7.5" fill="#222" font-family="Liberation Sans, sans-serif">160</text>
<line x1="495.4" y1="377" x2="495.4" y2="380.2" stroke="#444" stroke-width="0.9"/>
<text x="495.4" y="389.2" text-anchor="middle" font-size="7.8" fill="#222" font-family="Liberation Sans, sans-serif">706</text>
<line x1="523.0" y1="377" x2="523.0" y2="380.2" stroke="#444" stroke-width="0.9"/>
<text x="523.0" y="389.2" text-anchor="middle" font-size="7.8" fill="#222" font-family="Liberation Sans, sans-serif">710</text>
<line x1="550.6" y1="377" x2="550.6" y2="380.2" stroke="#444" stroke-width="0.9"/>
<text x="550.6" y="389.2" text-anchor="middle" font-size="7.8" fill="#222" font-family="Liberation Sans, sans-serif">714</text>
<line x1="578.2" y1="377" x2="578.2" y2="380.2" stroke="#444" stroke-width="0.9"/>
<text x="578.2" y="389.2" text-anchor="middle" font-size="7.8" fill="#222" font-family="Liberation Sans, sans-serif">718</text>
<line x1="605.8" y1="377" x2="605.8" y2="380.2" stroke="#444" stroke-width="0.9"/>
<text x="605.8" y="389.2" text-anchor="middle" font-size="7.8" fill="#222" font-family="Liberation Sans, sans-serif">722</text>
<line x1="633.4" y1="377" x2="633.4" y2="380.2" stroke="#444" stroke-width="0.9"/>
<text x="633.4" y="389.2" text-anchor="middle" font-size="7.8" fill="#222" font-family="Liberation Sans, sans-serif">726</text>
<line x1="661.0" y1="377" x2="661.0" y2="380.2" stroke="#444" stroke-width="0.9"/>
<text x="661.0" y="389.2" text-anchor="middle" font-size="7.8" fill="#222" font-family="Liberation Sans, sans-serif">730</text>
<text x="567.4" y="400" font-size="9" fill="#222" font-family="Liberation Sans, sans-serif">eV</text>
<text transform="translate(451.3,352.4) rotate(-90)" font-size="8.85" fill="#222" font-family="Liberation Sans, sans-serif">Counts × 10<tspan font-size="6.02" dy="-3.45">3</tspan></text>
<text x="480" y="291.9" font-size="15" fill="#111" font-family="Liberation Sans, sans-serif" word-spacing="-3.4">EELS 2</text>
<text x="661.25" y="295" font-size="18" font-weight="bold" fill="#ff0000" font-family="Liberation Sans, sans-serif">I</text>
<path d="M471.0,377.0 L471.6,376.5 L472.2,376.9 L472.8,376.6 L473.4,376.2 L474.0,376.7 L474.6,376.8 L475.2,376.5 L475.8,376.7 L476.4,376.3 L477.0,376.4 L477.6,376.5 L478.2,376.6 L478.8,376.6 L479.4,376.2 L480.0,376.1 L480.6,376.4 L481.2,376.8 L481.8,376.9 L482.4,376.3 L483.0,376.4 L483.6,376.6 L484.2,376.3 L484.8,376.7 L485.4,377.0 L486.0,376.3 L486.6,376.7 L487.2,376.8 L487.8,376.8 L488.4,376.8 L489.0,376.8 L489.6,376.4 L490.2,376.9 L490.8,377.0 L491.4,376.2 L492.0,377.1 L492.6,376.6 L493.2,376.2 L493.8,376.2 L494.4,376.9 L495.0,376.8 L495.6,376.3 L496.2,376.6 L496.8,376.8 L497.4,377.2 L498.0,376.5 L498.6,377.0 L499.2,376.4 L499.8,376.4 L500.4,376.4 L501.0,376.6 L501.6,376.8 L502.2,376.5 L502.8,376.4 L503.4,376.5 L504.0,376.3 L504.6,376.5 L505.2,376.6 L505.8,376.8 L506.4,376.5 L507.0,376.8 L507.6,376.7 L508.2,377.3 L508.8,376.8 L509.4,377.2 L510.0,376.8 L510.6,376.5 L511.2,376.9 L511.8,376.4 L512.4,376.4 L513.0,376.3 L513.6,376.9 L514.2,377.2 L514.8,376.6 L515.4,376.6 L516.0,376.6 L516.6,376.5 L517.2,376.8 L517.8,376.5 L518.4,376.3 L519.0,376.9 L519.6,376.6 L520.2,376.0 L520.8,376.8 L521.4,376.1 L522.0,374.9 L522.6,373.6 L523.2,372.6 L523.8,371.4 L524.4,370.4 L525.0,369.4 L525.6,368.4 L526.2,367.2 L526.8,365.9 L527.4,364.3 L528.0,362.3 L528.6,360.5 L529.2,358.8 L529.8,356.8 L530.4,354.6 L531.0,352.4 L531.6,349.9 L532.2,347.9 L532.8,345.5 L533.4,343.5 L534.0,342.4 L534.6,341.9 L535.2,342.3 L535.8,342.9 L536.4,343.2 L537.0,343.5 L537.6,341.9 L538.2,338.5 L538.8,334.3 L539.4,330.3 L540.0,325.6 L540.6,321.2 L541.2,316.7 L541.8,311.8 L542.4,307.2 L543.0,303.6 L543.6,301.7 L544.2,302.3 L544.8,304.1 L545.4,306.0 L546.0,308.5 L546.6,311.5 L547.2,314.7 L547.8,318.2 L548.4,321.2 L549.0,324.3 L549.6,327.4 L550.2,330.8 L550.8,333.8 L551.4,337.2 L552.0,339.9 L552.6,342.7 L553.2,345.1 L553.8,347.5 L554.4,348.9 L555.0,350.0 L555.6,350.9 L556.2,351.9 L556.8,353.1 L557.4,354.0 L558.0,355.0 L558.6,355.7 L559.2,356.2 L559.8,356.9 L560.4,356.4 L561.0,358.1 L561.6,357.5 L562.2,357.4 L562.8,358.9 L563.4,359.7 L564.0,359.4 L564.6,359.3 L565.2,361.0 L565.8,361.0 L566.4,360.9 L567.0,361.7 L567.6,360.1 L568.2,360.3 L568.8,360.6 L569.4,360.5 L570.0,362.0 L570.6,362.1 L571.2,361.4 L571.8,361.7 L572.4,362.0 L573.0,363.0 L573.6,363.4 L574.2,364.2 L574.8,363.4 L575.4,364.8 L576.0,364.1 L576.6,364.4 L577.2,364.4 L577.8,364.6 L578.4,366.2 L579.0,366.3 L579.6,365.9 L580.2,365.1 L580.8,365.2 L581.4,365.2 L582.0,365.7 L582.6,366.6 L583.2,365.6 L583.8,366.7 L584.4,367.2 L585.0,366.2 L585.6,366.9 L586.2,367.6 L586.8,367.2 L587.4,367.0 L588.0,367.8 L588.6,367.3 L589.2,366.8 L589.8,366.9 L590.4,367.9 L591.0,367.8 L591.6,368.0 L592.2,367.4 L592.8,366.7 L593.4,366.8 L594.0,367.3 L594.6,367.9 L595.2,366.7 L595.8,368.3 L596.4,368.4 L597.0,368.0 L597.6,367.3 L598.2,368.8 L598.8,368.2 L599.4,368.8 L600.0,368.7 L600.6,369.1 L601.2,368.6 L601.8,369.6 L602.4,369.7 L603.0,369.7 L603.6,369.2 L604.2,368.7 L604.8,368.8 L605.4,368.6 L606.0,369.7 L606.6,369.5 L607.2,369.4 L607.8,369.3 L608.4,369.5 L609.0,368.8 L609.6,367.9 L610.2,368.5 L610.8,367.4 L611.4,367.7 L612.0,366.6 L612.6,367.5 L613.2,366.5 L613.8,365.8 L614.4,366.6 L615.0,364.7 L615.6,365.8 L616.2,365.1 L616.8,363.6 L617.4,364.3 L618.0,363.5 L618.6,363.6 L619.2,362.6 L619.8,361.8 L620.4,362.3 L621.0,360.2 L621.6,360.9 L622.2,359.2 L622.8,359.1 L623.4,358.5 L624.0,359.8 L624.6,359.0 L625.2,359.7 L625.8,359.0 L626.4,360.1 L627.0,360.2 L627.6,359.4 L628.2,360.2 L628.8,360.4 L629.4,359.1 L630.0,359.5 L630.6,358.4 L631.2,358.1 L631.8,358.6 L632.4,358.3 L633.0,358.1 L633.6,356.9 L634.2,357.1 L634.8,357.5 L635.4,357.4 L636.0,356.9 L636.6,357.8 L637.2,357.2 L637.8,358.4 L638.4,357.8 L639.0,357.3 L639.6,358.5 L640.2,357.4 L640.8,358.4 L641.4,357.3 L642.0,359.3 L642.6,359.2 L643.2,360.7 L643.8,360.6 L644.4,362.1 L645.0,362.0 L645.6,362.0 L646.2,363.3 L646.8,362.1 L647.4,363.1 L648.0,362.6 L648.6,364.1 L649.2,364.4 L649.8,363.1 L650.4,364.1 L651.0,364.5 L651.6,365.4 L652.2,365.8 L652.8,365.4 L653.4,366.7 L654.0,365.6 L654.6,365.7 L655.2,367.1 L655.8,366.0 L656.4,366.2 L657.0,366.9 L657.6,366.7 L658.2,366.4 L658.8,367.9 L659.4,367.1 L660.0,367.7 L660.6,366.8 L661.2,368.1 L661.8,366.8 L662.4,367.9 L663.0,367.0 L663.6,367.3 L664.2,366.5 L664.8,365.9 L665.4,365.5 L666.0,365.8 L666.6,364.9 L667.2,364.1 L667.8,365.5 L668.4,365.2 L669.0,365.0 L669.6,365.2 L670.2,364.4 L670.8,364.8 L671.4,365.5 L672.0,365.7 L672.6,365.6 L673.2,364.2 L673.8,365.1 L674.4,364.8 L675.0,364.5" fill="none" stroke="#0c16ee" stroke-width="1.35" stroke-linejoin="round"/>
<rect x="1" y="0.9" width="683" height="1.1" fill="#111"/>
<rect x="1" y="1" width="1.8" height="404" fill="#111"/>
<rect x="682.4" y="1" width="1.6" height="404" fill="#111"/>
<rect x="1" y="403.2" width="683" height="1.8" fill="#111"/>
<rect x="147.85" y="1" width="1.15" height="403" fill="#111"/>
<rect x="438.7" y="1" width="1.45" height="403" fill="#111"/>
<rect x="1" y="132.9" width="683" height="1.8" fill="#1a1a1a"/>
<rect x="1" y="267.8" width="683" height="1.5" fill="#1a1a1a"/>
</svg>
</body></html>
